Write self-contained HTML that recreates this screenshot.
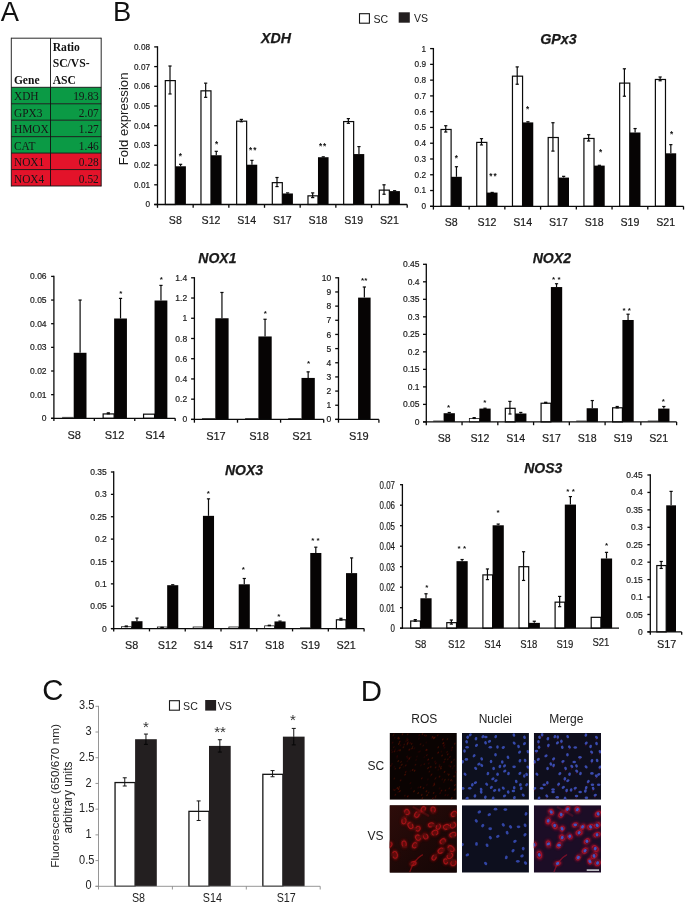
<!DOCTYPE html>
<html lang="en"><head><meta charset="utf-8"><title>Figure</title>
<style>html,body{margin:0;padding:0;background:#fff}body{width:685px;height:903px;overflow:hidden}svg{display:block}text{font-family:'Liberation Sans', Arial, sans-serif}</style>
</head><body>
<svg width="685" height="903" viewBox="0 0 685 903">
<defs><filter id="b1" x="-20%" y="-20%" width="140%" height="140%"><feGaussianBlur stdDeviation="0.55"/></filter><filter id="b2" x="-20%" y="-20%" width="140%" height="140%"><feGaussianBlur stdDeviation="0.8"/></filter><filter id="b3" x="-5%" y="-5%" width="110%" height="110%"><feGaussianBlur stdDeviation="0.5"/></filter><linearGradient id="gv" x1="0" y1="0" x2="1" y2="1"><stop offset="0" stop-color="#2e0c0a"/><stop offset="0.55" stop-color="#1d0807"/><stop offset="1" stop-color="#140505"/></linearGradient></defs>
<rect width="685" height="903" fill="#fff"/>
<text x="0.8" y="20.7" font-size="27.3" fill="#111">A</text>
<text x="113" y="20.7" font-size="27.3" fill="#111">B</text>
<text x="42.2" y="700.4" font-size="29.3" fill="#111">C</text>
<text x="360.8" y="700.9" font-size="29.4" fill="#111">D</text>
<g font-family="'Liberation Serif', 'Times New Roman', serif">
<rect x="11.3" y="38.2" width="89.9" height="49.1" fill="#fff"/>
<rect x="11.3" y="87.3" width="89.9" height="16.45" fill="#0b9a45"/>
<rect x="11.3" y="103.75" width="89.9" height="16.45" fill="#0b9a45"/>
<rect x="11.3" y="120.2" width="89.9" height="16.45" fill="#0b9a45"/>
<rect x="11.3" y="136.65" width="89.9" height="16.45" fill="#0b9a45"/>
<rect x="11.3" y="153.1" width="89.9" height="16.45" fill="#e3132a"/>
<rect x="11.3" y="169.55" width="89.9" height="16.45" fill="#e3132a"/>
<line x1="11.3" y1="87.3" x2="101.2" y2="87.3" stroke="#111" stroke-width="0.9"/>
<line x1="11.3" y1="103.75" x2="101.2" y2="103.75" stroke="#111" stroke-width="0.9"/>
<line x1="11.3" y1="120.2" x2="101.2" y2="120.2" stroke="#111" stroke-width="0.9"/>
<line x1="11.3" y1="136.65" x2="101.2" y2="136.65" stroke="#111" stroke-width="0.9"/>
<line x1="11.3" y1="153.1" x2="101.2" y2="153.1" stroke="#111" stroke-width="0.9"/>
<line x1="11.3" y1="169.55" x2="101.2" y2="169.55" stroke="#111" stroke-width="0.9"/>
<line x1="11.3" y1="186" x2="101.2" y2="186" stroke="#111" stroke-width="0.9"/>
<line x1="11.3" y1="38.2" x2="101.2" y2="38.2" stroke="#111" stroke-width="0.9"/>
<line x1="11.3" y1="37.75" x2="11.3" y2="186.45" stroke="#111" stroke-width="0.9"/>
<line x1="50.5" y1="38.2" x2="50.5" y2="186" stroke="#111" stroke-width="0.9"/>
<line x1="101.2" y1="37.75" x2="101.2" y2="186.45" stroke="#111" stroke-width="0.9"/>
<text transform="translate(13.9 100.4) scale(1 1.12)" font-size="11.4" fill="#161616" style="font-family:'Liberation Serif', 'Times New Roman', serif">XDH</text>
<text transform="translate(98.8 100.4) scale(1 1.12)" font-size="11.4" fill="#161616" text-anchor="end" style="font-family:'Liberation Serif', 'Times New Roman', serif">19.83</text>
<text transform="translate(13.9 116.85) scale(1 1.12)" font-size="11.4" fill="#161616" style="font-family:'Liberation Serif', 'Times New Roman', serif">GPX3</text>
<text transform="translate(98.8 116.85) scale(1 1.12)" font-size="11.4" fill="#161616" text-anchor="end" style="font-family:'Liberation Serif', 'Times New Roman', serif">2.07</text>
<text transform="translate(13.9 133.3) scale(1 1.12)" font-size="11.4" fill="#161616" style="font-family:'Liberation Serif', 'Times New Roman', serif">HMOX</text>
<text transform="translate(98.8 133.3) scale(1 1.12)" font-size="11.4" fill="#161616" text-anchor="end" style="font-family:'Liberation Serif', 'Times New Roman', serif">1.27</text>
<text transform="translate(13.9 149.75) scale(1 1.12)" font-size="11.4" fill="#161616" style="font-family:'Liberation Serif', 'Times New Roman', serif">CAT</text>
<text transform="translate(98.8 149.75) scale(1 1.12)" font-size="11.4" fill="#161616" text-anchor="end" style="font-family:'Liberation Serif', 'Times New Roman', serif">1.46</text>
<text transform="translate(13.9 166.2) scale(1 1.12)" font-size="11.4" fill="#161616" style="font-family:'Liberation Serif', 'Times New Roman', serif">NOX1</text>
<text transform="translate(98.8 166.2) scale(1 1.12)" font-size="11.4" fill="#161616" text-anchor="end" style="font-family:'Liberation Serif', 'Times New Roman', serif">0.28</text>
<text transform="translate(13.9 182.65) scale(1 1.12)" font-size="11.4" fill="#161616" style="font-family:'Liberation Serif', 'Times New Roman', serif">NOX4</text>
<text transform="translate(98.8 182.65) scale(1 1.12)" font-size="11.4" fill="#161616" text-anchor="end" style="font-family:'Liberation Serif', 'Times New Roman', serif">0.52</text>
<text transform="translate(13.9 83.6) scale(1.03 1.14)" font-size="11.2" font-weight="bold" fill="#111" style="font-family:'Liberation Serif', 'Times New Roman', serif">Gene</text>
<text transform="translate(52.7 51) scale(1.04 1.14)" font-size="11.2" font-weight="bold" fill="#111" style="font-family:'Liberation Serif', 'Times New Roman', serif">Ratio</text>
<text transform="translate(52.7 67.4) scale(1.04 1.14)" font-size="11.2" font-weight="bold" fill="#111" style="font-family:'Liberation Serif', 'Times New Roman', serif">SC/VS-</text>
<text transform="translate(52.7 83.8) scale(1.04 1.14)" font-size="11.2" font-weight="bold" fill="#111" style="font-family:'Liberation Serif', 'Times New Roman', serif">ASC</text>
</g>
<rect x="359.5" y="13.7" width="9.9" height="9.5" fill="#fff" stroke="#141414" stroke-width="1.1"/>
<text transform="translate(373.5 22.5) scale(0.9 1)" font-size="11.7" fill="#1a1a1a">SC</text>
<rect x="398.7" y="12.3" width="11.1" height="10.4" fill="#231f20"/>
<text transform="translate(413.9 22) scale(0.9 1)" font-size="11.7" fill="#1a1a1a">VS</text>
<text transform="translate(127.7 165.3) rotate(-90)" font-size="13.15" fill="#1a1a1a">Fold expression</text>
<g>
<rect x="165.3" y="80.6" width="10" height="123.9" fill="#fff" stroke="#0a0a0a" stroke-width="1.2"/>
<rect x="175.3" y="166.28" width="10.6" height="38.22" fill="#060404"/>
<line x1="170" y1="66.01" x2="170" y2="93.98" stroke="#0a0a0a" stroke-width="1.2"/>
<line x1="168.4" y1="66.01" x2="171.6" y2="66.01" stroke="#0a0a0a" stroke-width="1.2"/>
<line x1="168.4" y1="93.98" x2="171.6" y2="93.98" stroke="#0a0a0a" stroke-width="1.2"/>
<line x1="180.6" y1="164.31" x2="180.6" y2="166.28" stroke="#0a0a0a" stroke-width="1.2"/>
<line x1="179" y1="164.31" x2="182.2" y2="164.31" stroke="#0a0a0a" stroke-width="1.2"/>
<rect x="200.97" y="90.84" width="10" height="113.66" fill="#fff" stroke="#0a0a0a" stroke-width="1.2"/>
<rect x="210.97" y="155.25" width="10.6" height="49.25" fill="#060404"/>
<line x1="205.67" y1="83.15" x2="205.67" y2="97.33" stroke="#0a0a0a" stroke-width="1.2"/>
<line x1="204.07" y1="83.15" x2="207.27" y2="83.15" stroke="#0a0a0a" stroke-width="1.2"/>
<line x1="204.07" y1="97.33" x2="207.27" y2="97.33" stroke="#0a0a0a" stroke-width="1.2"/>
<line x1="216.27" y1="151.31" x2="216.27" y2="155.25" stroke="#0a0a0a" stroke-width="1.2"/>
<line x1="214.67" y1="151.31" x2="217.87" y2="151.31" stroke="#0a0a0a" stroke-width="1.2"/>
<rect x="236.64" y="121.18" width="10" height="83.32" fill="#fff" stroke="#0a0a0a" stroke-width="1.2"/>
<rect x="246.64" y="164.71" width="10.6" height="39.79" fill="#060404"/>
<line x1="241.34" y1="119.4" x2="241.34" y2="121.76" stroke="#0a0a0a" stroke-width="1.2"/>
<line x1="239.74" y1="119.4" x2="242.94" y2="119.4" stroke="#0a0a0a" stroke-width="1.2"/>
<line x1="239.74" y1="121.76" x2="242.94" y2="121.76" stroke="#0a0a0a" stroke-width="1.2"/>
<line x1="251.94" y1="160.37" x2="251.94" y2="164.71" stroke="#0a0a0a" stroke-width="1.2"/>
<line x1="250.34" y1="160.37" x2="253.54" y2="160.37" stroke="#0a0a0a" stroke-width="1.2"/>
<rect x="272.31" y="182.64" width="10" height="21.86" fill="#fff" stroke="#0a0a0a" stroke-width="1.2"/>
<rect x="282.31" y="193.47" width="10.6" height="11.03" fill="#060404"/>
<line x1="277.01" y1="177.51" x2="277.01" y2="186.57" stroke="#0a0a0a" stroke-width="1.2"/>
<line x1="275.41" y1="177.51" x2="278.61" y2="177.51" stroke="#0a0a0a" stroke-width="1.2"/>
<line x1="275.41" y1="186.57" x2="278.61" y2="186.57" stroke="#0a0a0a" stroke-width="1.2"/>
<line x1="287.61" y1="192.88" x2="287.61" y2="193.47" stroke="#0a0a0a" stroke-width="1.2"/>
<line x1="286.01" y1="192.88" x2="289.21" y2="192.88" stroke="#0a0a0a" stroke-width="1.2"/>
<rect x="307.98" y="195.84" width="10" height="8.66" fill="#fff" stroke="#0a0a0a" stroke-width="1.2"/>
<rect x="317.98" y="157.22" width="10.6" height="47.28" fill="#060404"/>
<line x1="312.68" y1="192.88" x2="312.68" y2="197.6" stroke="#0a0a0a" stroke-width="1.2"/>
<line x1="311.08" y1="192.88" x2="314.28" y2="192.88" stroke="#0a0a0a" stroke-width="1.2"/>
<line x1="311.08" y1="197.6" x2="314.28" y2="197.6" stroke="#0a0a0a" stroke-width="1.2"/>
<line x1="323.28" y1="156.83" x2="323.28" y2="157.22" stroke="#0a0a0a" stroke-width="1.2"/>
<line x1="321.68" y1="156.83" x2="324.88" y2="156.83" stroke="#0a0a0a" stroke-width="1.2"/>
<rect x="343.65" y="121.57" width="10" height="82.93" fill="#fff" stroke="#0a0a0a" stroke-width="1.2"/>
<rect x="353.65" y="154.07" width="10.6" height="50.43" fill="#060404"/>
<line x1="348.35" y1="118.61" x2="348.35" y2="123.34" stroke="#0a0a0a" stroke-width="1.2"/>
<line x1="346.75" y1="118.61" x2="349.95" y2="118.61" stroke="#0a0a0a" stroke-width="1.2"/>
<line x1="346.75" y1="123.34" x2="349.95" y2="123.34" stroke="#0a0a0a" stroke-width="1.2"/>
<line x1="358.95" y1="146.58" x2="358.95" y2="154.07" stroke="#0a0a0a" stroke-width="1.2"/>
<line x1="357.35" y1="146.58" x2="360.55" y2="146.58" stroke="#0a0a0a" stroke-width="1.2"/>
<rect x="379.32" y="190.13" width="10" height="14.37" fill="#fff" stroke="#0a0a0a" stroke-width="1.2"/>
<rect x="389.32" y="191.1" width="10.6" height="13.4" fill="#060404"/>
<line x1="384.02" y1="184.8" x2="384.02" y2="194.26" stroke="#0a0a0a" stroke-width="1.2"/>
<line x1="382.42" y1="184.8" x2="385.62" y2="184.8" stroke="#0a0a0a" stroke-width="1.2"/>
<line x1="382.42" y1="194.26" x2="385.62" y2="194.26" stroke="#0a0a0a" stroke-width="1.2"/>
<line x1="394.62" y1="190.71" x2="394.62" y2="191.1" stroke="#0a0a0a" stroke-width="1.2"/>
<line x1="393.02" y1="190.71" x2="396.22" y2="190.71" stroke="#0a0a0a" stroke-width="1.2"/>
<line x1="157.5" y1="46.25" x2="157.5" y2="205.15" stroke="#0a0a0a" stroke-width="1.3"/>
<line x1="154.2" y1="204.5" x2="407.19" y2="204.5" stroke="#0a0a0a" stroke-width="1.3"/>
<line x1="154.2" y1="204.5" x2="157.5" y2="204.5" stroke="#0a0a0a" stroke-width="1.3"/>
<line x1="154.2" y1="184.8" x2="157.5" y2="184.8" stroke="#0a0a0a" stroke-width="1.3"/>
<line x1="154.2" y1="165.1" x2="157.5" y2="165.1" stroke="#0a0a0a" stroke-width="1.3"/>
<line x1="154.2" y1="145.4" x2="157.5" y2="145.4" stroke="#0a0a0a" stroke-width="1.3"/>
<line x1="154.2" y1="125.7" x2="157.5" y2="125.7" stroke="#0a0a0a" stroke-width="1.3"/>
<line x1="154.2" y1="106" x2="157.5" y2="106" stroke="#0a0a0a" stroke-width="1.3"/>
<line x1="154.2" y1="86.3" x2="157.5" y2="86.3" stroke="#0a0a0a" stroke-width="1.3"/>
<line x1="154.2" y1="66.6" x2="157.5" y2="66.6" stroke="#0a0a0a" stroke-width="1.3"/>
<line x1="154.2" y1="46.9" x2="157.5" y2="46.9" stroke="#0a0a0a" stroke-width="1.3"/>
<line x1="157.5" y1="204.5" x2="157.5" y2="207.8" stroke="#0a0a0a" stroke-width="1.3"/>
<line x1="193.17" y1="204.5" x2="193.17" y2="207.8" stroke="#0a0a0a" stroke-width="1.3"/>
<line x1="228.84" y1="204.5" x2="228.84" y2="207.8" stroke="#0a0a0a" stroke-width="1.3"/>
<line x1="264.51" y1="204.5" x2="264.51" y2="207.8" stroke="#0a0a0a" stroke-width="1.3"/>
<line x1="300.18" y1="204.5" x2="300.18" y2="207.8" stroke="#0a0a0a" stroke-width="1.3"/>
<line x1="335.85" y1="204.5" x2="335.85" y2="207.8" stroke="#0a0a0a" stroke-width="1.3"/>
<line x1="371.52" y1="204.5" x2="371.52" y2="207.8" stroke="#0a0a0a" stroke-width="1.3"/>
<line x1="407.19" y1="204.5" x2="407.19" y2="207.8" stroke="#0a0a0a" stroke-width="1.3"/>
<text x="150" y="207.45" font-size="8.2" text-anchor="end" fill="#1a1a1a" stroke="#1a1a1a" stroke-width="0.18">0</text>
<text x="150" y="187.75" font-size="8.2" text-anchor="end" fill="#1a1a1a" stroke="#1a1a1a" stroke-width="0.18">0.01</text>
<text x="150" y="168.05" font-size="8.2" text-anchor="end" fill="#1a1a1a" stroke="#1a1a1a" stroke-width="0.18">0.02</text>
<text x="150" y="148.35" font-size="8.2" text-anchor="end" fill="#1a1a1a" stroke="#1a1a1a" stroke-width="0.18">0.03</text>
<text x="150" y="128.65" font-size="8.2" text-anchor="end" fill="#1a1a1a" stroke="#1a1a1a" stroke-width="0.18">0.04</text>
<text x="150" y="108.95" font-size="8.2" text-anchor="end" fill="#1a1a1a" stroke="#1a1a1a" stroke-width="0.18">0.05</text>
<text x="150" y="89.25" font-size="8.2" text-anchor="end" fill="#1a1a1a" stroke="#1a1a1a" stroke-width="0.18">0.06</text>
<text x="150" y="69.55" font-size="8.2" text-anchor="end" fill="#1a1a1a" stroke="#1a1a1a" stroke-width="0.18">0.07</text>
<text x="150" y="49.85" font-size="8.2" text-anchor="end" fill="#1a1a1a" stroke="#1a1a1a" stroke-width="0.18">0.08</text>
<text x="175.34" y="224.3" font-size="10.6" text-anchor="middle" fill="#1a1a1a" stroke="#1a1a1a" stroke-width="0.18">S8</text>
<text x="211" y="224.3" font-size="10.6" text-anchor="middle" fill="#1a1a1a" stroke="#1a1a1a" stroke-width="0.18">S12</text>
<text x="246.68" y="224.3" font-size="10.6" text-anchor="middle" fill="#1a1a1a" stroke="#1a1a1a" stroke-width="0.18">S14</text>
<text x="282.35" y="224.3" font-size="10.6" text-anchor="middle" fill="#1a1a1a" stroke="#1a1a1a" stroke-width="0.18">S17</text>
<text x="318.01" y="224.3" font-size="10.6" text-anchor="middle" fill="#1a1a1a" stroke="#1a1a1a" stroke-width="0.18">S18</text>
<text x="353.69" y="224.3" font-size="10.6" text-anchor="middle" fill="#1a1a1a" stroke="#1a1a1a" stroke-width="0.18">S19</text>
<text x="389.36" y="224.3" font-size="10.6" text-anchor="middle" fill="#1a1a1a" stroke="#1a1a1a" stroke-width="0.18">S21</text>
<text x="180.4" y="159.05" font-size="8.2" text-anchor="middle" font-weight="bold" fill="#111">*</text>
<text x="216.6" y="147.05" font-size="8.2" text-anchor="middle" font-weight="bold" fill="#111">*</text>
<text x="253.2" y="153.15" font-size="8.2" text-anchor="middle" font-weight="bold" fill="#111" letter-spacing="1">**</text>
<text x="323.1" y="149.15" font-size="8.2" text-anchor="middle" font-weight="bold" fill="#111" letter-spacing="1">**</text>
<text x="261" y="43.4" font-size="14.2" font-weight="bold" font-style="italic" fill="#1a1a1a" stroke="#1a1a1a" stroke-width="0.25">XDH</text>
</g>
<g>
<rect x="441" y="129.47" width="10.1" height="76.83" fill="#fff" stroke="#0a0a0a" stroke-width="1.2"/>
<rect x="451.1" y="176.81" width="10.7" height="29.49" fill="#060404"/>
<line x1="445.75" y1="125.72" x2="445.75" y2="132.02" stroke="#0a0a0a" stroke-width="1.2"/>
<line x1="444.15" y1="125.72" x2="447.35" y2="125.72" stroke="#0a0a0a" stroke-width="1.2"/>
<line x1="444.15" y1="132.02" x2="447.35" y2="132.02" stroke="#0a0a0a" stroke-width="1.2"/>
<line x1="456.45" y1="166.72" x2="456.45" y2="176.81" stroke="#0a0a0a" stroke-width="1.2"/>
<line x1="454.85" y1="166.72" x2="458.05" y2="166.72" stroke="#0a0a0a" stroke-width="1.2"/>
<rect x="476.73" y="142.4" width="10.1" height="63.9" fill="#fff" stroke="#0a0a0a" stroke-width="1.2"/>
<rect x="486.83" y="192.58" width="10.7" height="13.72" fill="#060404"/>
<line x1="481.48" y1="138.65" x2="481.48" y2="144.95" stroke="#0a0a0a" stroke-width="1.2"/>
<line x1="479.88" y1="138.65" x2="483.08" y2="138.65" stroke="#0a0a0a" stroke-width="1.2"/>
<line x1="479.88" y1="144.95" x2="483.08" y2="144.95" stroke="#0a0a0a" stroke-width="1.2"/>
<line x1="492.18" y1="192.42" x2="492.18" y2="192.58" stroke="#0a0a0a" stroke-width="1.2"/>
<line x1="490.58" y1="192.42" x2="493.78" y2="192.42" stroke="#0a0a0a" stroke-width="1.2"/>
<rect x="512.46" y="76.17" width="10.1" height="130.13" fill="#fff" stroke="#0a0a0a" stroke-width="1.2"/>
<rect x="522.56" y="122.4" width="10.7" height="83.9" fill="#060404"/>
<line x1="517.21" y1="66.89" x2="517.21" y2="84.24" stroke="#0a0a0a" stroke-width="1.2"/>
<line x1="515.61" y1="66.89" x2="518.81" y2="66.89" stroke="#0a0a0a" stroke-width="1.2"/>
<line x1="515.61" y1="84.24" x2="518.81" y2="84.24" stroke="#0a0a0a" stroke-width="1.2"/>
<line x1="527.91" y1="121.77" x2="527.91" y2="122.4" stroke="#0a0a0a" stroke-width="1.2"/>
<line x1="526.31" y1="121.77" x2="529.51" y2="121.77" stroke="#0a0a0a" stroke-width="1.2"/>
<rect x="548.19" y="137.51" width="10.1" height="68.79" fill="#fff" stroke="#0a0a0a" stroke-width="1.2"/>
<rect x="558.29" y="177.6" width="10.7" height="28.7" fill="#060404"/>
<line x1="552.94" y1="122.72" x2="552.94" y2="151.11" stroke="#0a0a0a" stroke-width="1.2"/>
<line x1="551.34" y1="122.72" x2="554.54" y2="122.72" stroke="#0a0a0a" stroke-width="1.2"/>
<line x1="551.34" y1="151.11" x2="554.54" y2="151.11" stroke="#0a0a0a" stroke-width="1.2"/>
<line x1="563.64" y1="176.34" x2="563.64" y2="177.6" stroke="#0a0a0a" stroke-width="1.2"/>
<line x1="562.04" y1="176.34" x2="565.24" y2="176.34" stroke="#0a0a0a" stroke-width="1.2"/>
<rect x="583.92" y="138.46" width="10.1" height="67.84" fill="#fff" stroke="#0a0a0a" stroke-width="1.2"/>
<rect x="594.02" y="165.61" width="10.7" height="40.69" fill="#060404"/>
<line x1="588.67" y1="134.7" x2="588.67" y2="141.01" stroke="#0a0a0a" stroke-width="1.2"/>
<line x1="587.07" y1="134.7" x2="590.27" y2="134.7" stroke="#0a0a0a" stroke-width="1.2"/>
<line x1="587.07" y1="141.01" x2="590.27" y2="141.01" stroke="#0a0a0a" stroke-width="1.2"/>
<line x1="599.37" y1="165.3" x2="599.37" y2="165.61" stroke="#0a0a0a" stroke-width="1.2"/>
<line x1="597.77" y1="165.3" x2="600.97" y2="165.3" stroke="#0a0a0a" stroke-width="1.2"/>
<rect x="619.65" y="83.11" width="10.1" height="123.19" fill="#fff" stroke="#0a0a0a" stroke-width="1.2"/>
<rect x="629.75" y="132.5" width="10.7" height="73.8" fill="#060404"/>
<line x1="624.4" y1="68.79" x2="624.4" y2="96.23" stroke="#0a0a0a" stroke-width="1.2"/>
<line x1="622.8" y1="68.79" x2="626" y2="68.79" stroke="#0a0a0a" stroke-width="1.2"/>
<line x1="622.8" y1="96.23" x2="626" y2="96.23" stroke="#0a0a0a" stroke-width="1.2"/>
<line x1="635.1" y1="128.55" x2="635.1" y2="132.5" stroke="#0a0a0a" stroke-width="1.2"/>
<line x1="633.5" y1="128.55" x2="636.7" y2="128.55" stroke="#0a0a0a" stroke-width="1.2"/>
<rect x="655.38" y="79.48" width="10.1" height="126.82" fill="#fff" stroke="#0a0a0a" stroke-width="1.2"/>
<rect x="665.48" y="153.31" width="10.7" height="52.99" fill="#060404"/>
<line x1="660.13" y1="76.99" x2="660.13" y2="80.77" stroke="#0a0a0a" stroke-width="1.2"/>
<line x1="658.53" y1="76.99" x2="661.73" y2="76.99" stroke="#0a0a0a" stroke-width="1.2"/>
<line x1="658.53" y1="80.77" x2="661.73" y2="80.77" stroke="#0a0a0a" stroke-width="1.2"/>
<line x1="670.83" y1="144.64" x2="670.83" y2="153.31" stroke="#0a0a0a" stroke-width="1.2"/>
<line x1="669.23" y1="144.64" x2="672.43" y2="144.64" stroke="#0a0a0a" stroke-width="1.2"/>
<line x1="433.4" y1="47.95" x2="433.4" y2="206.95" stroke="#0a0a0a" stroke-width="1.3"/>
<line x1="430.1" y1="206.3" x2="683.51" y2="206.3" stroke="#0a0a0a" stroke-width="1.3"/>
<line x1="430.1" y1="206.3" x2="433.4" y2="206.3" stroke="#0a0a0a" stroke-width="1.3"/>
<line x1="430.1" y1="190.53" x2="433.4" y2="190.53" stroke="#0a0a0a" stroke-width="1.3"/>
<line x1="430.1" y1="174.76" x2="433.4" y2="174.76" stroke="#0a0a0a" stroke-width="1.3"/>
<line x1="430.1" y1="158.99" x2="433.4" y2="158.99" stroke="#0a0a0a" stroke-width="1.3"/>
<line x1="430.1" y1="143.22" x2="433.4" y2="143.22" stroke="#0a0a0a" stroke-width="1.3"/>
<line x1="430.1" y1="127.45" x2="433.4" y2="127.45" stroke="#0a0a0a" stroke-width="1.3"/>
<line x1="430.1" y1="111.68" x2="433.4" y2="111.68" stroke="#0a0a0a" stroke-width="1.3"/>
<line x1="430.1" y1="95.91" x2="433.4" y2="95.91" stroke="#0a0a0a" stroke-width="1.3"/>
<line x1="430.1" y1="80.14" x2="433.4" y2="80.14" stroke="#0a0a0a" stroke-width="1.3"/>
<line x1="430.1" y1="64.37" x2="433.4" y2="64.37" stroke="#0a0a0a" stroke-width="1.3"/>
<line x1="430.1" y1="48.6" x2="433.4" y2="48.6" stroke="#0a0a0a" stroke-width="1.3"/>
<line x1="433.4" y1="206.3" x2="433.4" y2="209.6" stroke="#0a0a0a" stroke-width="1.3"/>
<line x1="469.13" y1="206.3" x2="469.13" y2="209.6" stroke="#0a0a0a" stroke-width="1.3"/>
<line x1="504.86" y1="206.3" x2="504.86" y2="209.6" stroke="#0a0a0a" stroke-width="1.3"/>
<line x1="540.59" y1="206.3" x2="540.59" y2="209.6" stroke="#0a0a0a" stroke-width="1.3"/>
<line x1="576.32" y1="206.3" x2="576.32" y2="209.6" stroke="#0a0a0a" stroke-width="1.3"/>
<line x1="612.05" y1="206.3" x2="612.05" y2="209.6" stroke="#0a0a0a" stroke-width="1.3"/>
<line x1="647.78" y1="206.3" x2="647.78" y2="209.6" stroke="#0a0a0a" stroke-width="1.3"/>
<line x1="683.51" y1="206.3" x2="683.51" y2="209.6" stroke="#0a0a0a" stroke-width="1.3"/>
<text x="426" y="209.25" font-size="8.2" text-anchor="end" fill="#1a1a1a" stroke="#1a1a1a" stroke-width="0.18">0</text>
<text x="426" y="193.48" font-size="8.2" text-anchor="end" fill="#1a1a1a" stroke="#1a1a1a" stroke-width="0.18">0.1</text>
<text x="426" y="177.71" font-size="8.2" text-anchor="end" fill="#1a1a1a" stroke="#1a1a1a" stroke-width="0.18">0.2</text>
<text x="426" y="161.94" font-size="8.2" text-anchor="end" fill="#1a1a1a" stroke="#1a1a1a" stroke-width="0.18">0.3</text>
<text x="426" y="146.17" font-size="8.2" text-anchor="end" fill="#1a1a1a" stroke="#1a1a1a" stroke-width="0.18">0.4</text>
<text x="426" y="130.4" font-size="8.2" text-anchor="end" fill="#1a1a1a" stroke="#1a1a1a" stroke-width="0.18">0.5</text>
<text x="426" y="114.63" font-size="8.2" text-anchor="end" fill="#1a1a1a" stroke="#1a1a1a" stroke-width="0.18">0.6</text>
<text x="426" y="98.86" font-size="8.2" text-anchor="end" fill="#1a1a1a" stroke="#1a1a1a" stroke-width="0.18">0.7</text>
<text x="426" y="83.09" font-size="8.2" text-anchor="end" fill="#1a1a1a" stroke="#1a1a1a" stroke-width="0.18">0.8</text>
<text x="426" y="67.32" font-size="8.2" text-anchor="end" fill="#1a1a1a" stroke="#1a1a1a" stroke-width="0.18">0.9</text>
<text x="426" y="51.55" font-size="8.2" text-anchor="end" fill="#1a1a1a" stroke="#1a1a1a" stroke-width="0.18">1</text>
<text x="451.26" y="225.6" font-size="10.6" text-anchor="middle" fill="#1a1a1a" stroke="#1a1a1a" stroke-width="0.18">S8</text>
<text x="487" y="225.6" font-size="10.6" text-anchor="middle" fill="#1a1a1a" stroke="#1a1a1a" stroke-width="0.18">S12</text>
<text x="522.72" y="225.6" font-size="10.6" text-anchor="middle" fill="#1a1a1a" stroke="#1a1a1a" stroke-width="0.18">S14</text>
<text x="558.45" y="225.6" font-size="10.6" text-anchor="middle" fill="#1a1a1a" stroke="#1a1a1a" stroke-width="0.18">S17</text>
<text x="594.18" y="225.6" font-size="10.6" text-anchor="middle" fill="#1a1a1a" stroke="#1a1a1a" stroke-width="0.18">S18</text>
<text x="629.91" y="225.6" font-size="10.6" text-anchor="middle" fill="#1a1a1a" stroke="#1a1a1a" stroke-width="0.18">S19</text>
<text x="665.64" y="225.6" font-size="10.6" text-anchor="middle" fill="#1a1a1a" stroke="#1a1a1a" stroke-width="0.18">S21</text>
<text x="456.3" y="161.15" font-size="8.2" text-anchor="middle" font-weight="bold" fill="#111">*</text>
<text x="493.4" y="179.15" font-size="8.2" text-anchor="middle" font-weight="bold" fill="#111" letter-spacing="1">**</text>
<text x="527.7" y="112.25" font-size="8.2" text-anchor="middle" font-weight="bold" fill="#111">*</text>
<text x="600.6" y="154.85" font-size="8.2" text-anchor="middle" font-weight="bold" fill="#111">*</text>
<text x="671.5" y="137.05" font-size="8.2" text-anchor="middle" font-weight="bold" fill="#111">*</text>
<text x="540.2" y="44.3" font-size="14.3" font-weight="bold" font-style="italic" fill="#1a1a1a" stroke="#1a1a1a" stroke-width="0.25">GPx3</text>
</g>
<g>
<line x1="62.1" y1="417.4" x2="73.7" y2="417.4" stroke="#0a0a0a" stroke-width="0.7"/>
<rect x="73.7" y="352.79" width="12.8" height="65.51" fill="#060404"/>
<line x1="80.1" y1="300.05" x2="80.1" y2="352.79" stroke="#0a0a0a" stroke-width="1.2"/>
<line x1="78.5" y1="300.05" x2="81.7" y2="300.05" stroke="#0a0a0a" stroke-width="1.2"/>
<rect x="103.13" y="413.93" width="11" height="4.37" fill="#fff" stroke="#0a0a0a" stroke-width="1.2"/>
<rect x="114.13" y="318.5" width="12.8" height="99.8" fill="#060404"/>
<line x1="108.33" y1="412.86" x2="108.33" y2="413.81" stroke="#0a0a0a" stroke-width="1.2"/>
<line x1="106.73" y1="412.86" x2="109.93" y2="412.86" stroke="#0a0a0a" stroke-width="1.2"/>
<line x1="106.73" y1="413.81" x2="109.93" y2="413.81" stroke="#0a0a0a" stroke-width="1.2"/>
<line x1="120.53" y1="298.39" x2="120.53" y2="318.5" stroke="#0a0a0a" stroke-width="1.2"/>
<line x1="118.93" y1="298.39" x2="122.13" y2="298.39" stroke="#0a0a0a" stroke-width="1.2"/>
<rect x="143.56" y="414.17" width="11" height="4.13" fill="#fff" stroke="#0a0a0a" stroke-width="1.2"/>
<rect x="154.56" y="300.52" width="12.8" height="117.78" fill="#060404"/>
<line x1="160.96" y1="285.39" x2="160.96" y2="300.52" stroke="#0a0a0a" stroke-width="1.2"/>
<line x1="159.36" y1="285.39" x2="162.56" y2="285.39" stroke="#0a0a0a" stroke-width="1.2"/>
<line x1="53.9" y1="275.75" x2="53.9" y2="418.95" stroke="#0a0a0a" stroke-width="1.3"/>
<line x1="51.1" y1="418.3" x2="175.19" y2="418.3" stroke="#0a0a0a" stroke-width="1.3"/>
<line x1="51.1" y1="418.3" x2="53.9" y2="418.3" stroke="#0a0a0a" stroke-width="1.3"/>
<line x1="51.1" y1="394.65" x2="53.9" y2="394.65" stroke="#0a0a0a" stroke-width="1.3"/>
<line x1="51.1" y1="371" x2="53.9" y2="371" stroke="#0a0a0a" stroke-width="1.3"/>
<line x1="51.1" y1="347.35" x2="53.9" y2="347.35" stroke="#0a0a0a" stroke-width="1.3"/>
<line x1="51.1" y1="323.7" x2="53.9" y2="323.7" stroke="#0a0a0a" stroke-width="1.3"/>
<line x1="51.1" y1="300.05" x2="53.9" y2="300.05" stroke="#0a0a0a" stroke-width="1.3"/>
<line x1="51.1" y1="276.4" x2="53.9" y2="276.4" stroke="#0a0a0a" stroke-width="1.3"/>
<line x1="53.9" y1="418.3" x2="53.9" y2="421.1" stroke="#0a0a0a" stroke-width="1.3"/>
<line x1="94.33" y1="418.3" x2="94.33" y2="421.1" stroke="#0a0a0a" stroke-width="1.3"/>
<line x1="134.76" y1="418.3" x2="134.76" y2="421.1" stroke="#0a0a0a" stroke-width="1.3"/>
<line x1="175.19" y1="418.3" x2="175.19" y2="421.1" stroke="#0a0a0a" stroke-width="1.3"/>
<text x="46.6" y="421.36" font-size="8.5" text-anchor="end" fill="#1a1a1a" stroke="#1a1a1a" stroke-width="0.18">0</text>
<text x="46.6" y="397.71" font-size="8.5" text-anchor="end" fill="#1a1a1a" stroke="#1a1a1a" stroke-width="0.18">0.01</text>
<text x="46.6" y="374.06" font-size="8.5" text-anchor="end" fill="#1a1a1a" stroke="#1a1a1a" stroke-width="0.18">0.02</text>
<text x="46.6" y="350.41" font-size="8.5" text-anchor="end" fill="#1a1a1a" stroke="#1a1a1a" stroke-width="0.18">0.03</text>
<text x="46.6" y="326.76" font-size="8.5" text-anchor="end" fill="#1a1a1a" stroke="#1a1a1a" stroke-width="0.18">0.04</text>
<text x="46.6" y="303.11" font-size="8.5" text-anchor="end" fill="#1a1a1a" stroke="#1a1a1a" stroke-width="0.18">0.05</text>
<text x="46.6" y="279.46" font-size="8.5" text-anchor="end" fill="#1a1a1a" stroke="#1a1a1a" stroke-width="0.18">0.06</text>
<text x="74.11" y="438.6" font-size="11" text-anchor="middle" fill="#1a1a1a" stroke="#1a1a1a" stroke-width="0.18">S8</text>
<text x="114.54" y="438.6" font-size="11" text-anchor="middle" fill="#1a1a1a" stroke="#1a1a1a" stroke-width="0.18">S12</text>
<text x="154.97" y="438.6" font-size="11" text-anchor="middle" fill="#1a1a1a" stroke="#1a1a1a" stroke-width="0.18">S14</text>
<text x="120.8" y="295.66" font-size="8" text-anchor="middle" font-weight="bold" fill="#111">*</text>
<text x="161.2" y="281.56" font-size="8" text-anchor="middle" font-weight="bold" fill="#111">*</text>
</g>
<g>
<line x1="202" y1="418.5" x2="215.3" y2="418.5" stroke="#0a0a0a" stroke-width="0.7"/>
<rect x="215.3" y="318.26" width="13.3" height="101.14" fill="#060404"/>
<line x1="221.95" y1="292.47" x2="221.95" y2="318.26" stroke="#0a0a0a" stroke-width="1.2"/>
<line x1="220.35" y1="292.47" x2="223.55" y2="292.47" stroke="#0a0a0a" stroke-width="1.2"/>
<line x1="245.1" y1="418.5" x2="258.4" y2="418.5" stroke="#0a0a0a" stroke-width="0.7"/>
<rect x="258.4" y="336.46" width="13.3" height="82.94" fill="#060404"/>
<line x1="265.05" y1="319.27" x2="265.05" y2="336.46" stroke="#0a0a0a" stroke-width="1.2"/>
<line x1="263.45" y1="319.27" x2="266.65" y2="319.27" stroke="#0a0a0a" stroke-width="1.2"/>
<line x1="288.2" y1="418.5" x2="301.5" y2="418.5" stroke="#0a0a0a" stroke-width="0.7"/>
<rect x="301.5" y="377.93" width="13.3" height="41.47" fill="#060404"/>
<line x1="308.15" y1="371.86" x2="308.15" y2="377.93" stroke="#0a0a0a" stroke-width="1.2"/>
<line x1="306.55" y1="371.86" x2="309.75" y2="371.86" stroke="#0a0a0a" stroke-width="1.2"/>
<line x1="194.4" y1="277.15" x2="194.4" y2="420.05" stroke="#0a0a0a" stroke-width="1.3"/>
<line x1="191.1" y1="419.4" x2="323.7" y2="419.4" stroke="#0a0a0a" stroke-width="1.3"/>
<line x1="191.1" y1="419.4" x2="194.4" y2="419.4" stroke="#0a0a0a" stroke-width="1.3"/>
<line x1="191.1" y1="399.17" x2="194.4" y2="399.17" stroke="#0a0a0a" stroke-width="1.3"/>
<line x1="191.1" y1="378.94" x2="194.4" y2="378.94" stroke="#0a0a0a" stroke-width="1.3"/>
<line x1="191.1" y1="358.71" x2="194.4" y2="358.71" stroke="#0a0a0a" stroke-width="1.3"/>
<line x1="191.1" y1="338.49" x2="194.4" y2="338.49" stroke="#0a0a0a" stroke-width="1.3"/>
<line x1="191.1" y1="318.26" x2="194.4" y2="318.26" stroke="#0a0a0a" stroke-width="1.3"/>
<line x1="191.1" y1="298.03" x2="194.4" y2="298.03" stroke="#0a0a0a" stroke-width="1.3"/>
<line x1="191.1" y1="277.8" x2="194.4" y2="277.8" stroke="#0a0a0a" stroke-width="1.3"/>
<line x1="194.4" y1="419.4" x2="194.4" y2="422.7" stroke="#0a0a0a" stroke-width="1.3"/>
<line x1="237.5" y1="419.4" x2="237.5" y2="422.7" stroke="#0a0a0a" stroke-width="1.3"/>
<line x1="280.6" y1="419.4" x2="280.6" y2="422.7" stroke="#0a0a0a" stroke-width="1.3"/>
<line x1="323.7" y1="419.4" x2="323.7" y2="422.7" stroke="#0a0a0a" stroke-width="1.3"/>
<text x="187.2" y="422.46" font-size="8.5" text-anchor="end" fill="#1a1a1a" stroke="#1a1a1a" stroke-width="0.18">0</text>
<text x="187.2" y="402.23" font-size="8.5" text-anchor="end" fill="#1a1a1a" stroke="#1a1a1a" stroke-width="0.18">0.2</text>
<text x="187.2" y="382" font-size="8.5" text-anchor="end" fill="#1a1a1a" stroke="#1a1a1a" stroke-width="0.18">0.4</text>
<text x="187.2" y="361.77" font-size="8.5" text-anchor="end" fill="#1a1a1a" stroke="#1a1a1a" stroke-width="0.18">0.6</text>
<text x="187.2" y="341.55" font-size="8.5" text-anchor="end" fill="#1a1a1a" stroke="#1a1a1a" stroke-width="0.18">0.8</text>
<text x="187.2" y="321.32" font-size="8.5" text-anchor="end" fill="#1a1a1a" stroke="#1a1a1a" stroke-width="0.18">1</text>
<text x="187.2" y="301.09" font-size="8.5" text-anchor="end" fill="#1a1a1a" stroke="#1a1a1a" stroke-width="0.18">1.2</text>
<text x="187.2" y="280.86" font-size="8.5" text-anchor="end" fill="#1a1a1a" stroke="#1a1a1a" stroke-width="0.18">1.4</text>
<text x="215.95" y="439.6" font-size="11" text-anchor="middle" fill="#1a1a1a" stroke="#1a1a1a" stroke-width="0.18">S17</text>
<text x="259.05" y="439.6" font-size="11" text-anchor="middle" fill="#1a1a1a" stroke="#1a1a1a" stroke-width="0.18">S18</text>
<text x="302.15" y="439.6" font-size="11" text-anchor="middle" fill="#1a1a1a" stroke="#1a1a1a" stroke-width="0.18">S21</text>
<text x="265.4" y="315.56" font-size="8" text-anchor="middle" font-weight="bold" fill="#111">*</text>
<text x="308.6" y="365.66" font-size="8" text-anchor="middle" font-weight="bold" fill="#111">*</text>
<text x="198.3" y="262.9" font-size="14" font-weight="bold" font-style="italic" fill="#1a1a1a" stroke="#1a1a1a" stroke-width="0.25">NOX1</text>
</g>
<g>
<rect x="358.1" y="297.62" width="12.5" height="121.78" fill="#060404"/>
<line x1="364.35" y1="287" x2="364.35" y2="297.62" stroke="#0a0a0a" stroke-width="1.2"/>
<line x1="362.75" y1="287" x2="365.95" y2="287" stroke="#0a0a0a" stroke-width="1.2"/>
<line x1="338.5" y1="277.15" x2="338.5" y2="420.05" stroke="#0a0a0a" stroke-width="1.3"/>
<line x1="335.2" y1="419.4" x2="378.9" y2="419.4" stroke="#0a0a0a" stroke-width="1.3"/>
<line x1="335.2" y1="419.4" x2="338.5" y2="419.4" stroke="#0a0a0a" stroke-width="1.3"/>
<line x1="335.2" y1="405.24" x2="338.5" y2="405.24" stroke="#0a0a0a" stroke-width="1.3"/>
<line x1="335.2" y1="391.08" x2="338.5" y2="391.08" stroke="#0a0a0a" stroke-width="1.3"/>
<line x1="335.2" y1="376.92" x2="338.5" y2="376.92" stroke="#0a0a0a" stroke-width="1.3"/>
<line x1="335.2" y1="362.76" x2="338.5" y2="362.76" stroke="#0a0a0a" stroke-width="1.3"/>
<line x1="335.2" y1="348.6" x2="338.5" y2="348.6" stroke="#0a0a0a" stroke-width="1.3"/>
<line x1="335.2" y1="334.44" x2="338.5" y2="334.44" stroke="#0a0a0a" stroke-width="1.3"/>
<line x1="335.2" y1="320.28" x2="338.5" y2="320.28" stroke="#0a0a0a" stroke-width="1.3"/>
<line x1="335.2" y1="306.12" x2="338.5" y2="306.12" stroke="#0a0a0a" stroke-width="1.3"/>
<line x1="335.2" y1="291.96" x2="338.5" y2="291.96" stroke="#0a0a0a" stroke-width="1.3"/>
<line x1="335.2" y1="277.8" x2="338.5" y2="277.8" stroke="#0a0a0a" stroke-width="1.3"/>
<line x1="338.5" y1="419.4" x2="338.5" y2="422.7" stroke="#0a0a0a" stroke-width="1.3"/>
<line x1="378.9" y1="419.4" x2="378.9" y2="422.7" stroke="#0a0a0a" stroke-width="1.3"/>
<text x="331.3" y="422.46" font-size="8.5" text-anchor="end" fill="#1a1a1a" stroke="#1a1a1a" stroke-width="0.18">0</text>
<text x="331.3" y="408.3" font-size="8.5" text-anchor="end" fill="#1a1a1a" stroke="#1a1a1a" stroke-width="0.18">1</text>
<text x="331.3" y="394.14" font-size="8.5" text-anchor="end" fill="#1a1a1a" stroke="#1a1a1a" stroke-width="0.18">2</text>
<text x="331.3" y="379.98" font-size="8.5" text-anchor="end" fill="#1a1a1a" stroke="#1a1a1a" stroke-width="0.18">3</text>
<text x="331.3" y="365.82" font-size="8.5" text-anchor="end" fill="#1a1a1a" stroke="#1a1a1a" stroke-width="0.18">4</text>
<text x="331.3" y="351.66" font-size="8.5" text-anchor="end" fill="#1a1a1a" stroke="#1a1a1a" stroke-width="0.18">5</text>
<text x="331.3" y="337.5" font-size="8.5" text-anchor="end" fill="#1a1a1a" stroke="#1a1a1a" stroke-width="0.18">6</text>
<text x="331.3" y="323.34" font-size="8.5" text-anchor="end" fill="#1a1a1a" stroke="#1a1a1a" stroke-width="0.18">7</text>
<text x="331.3" y="309.18" font-size="8.5" text-anchor="end" fill="#1a1a1a" stroke="#1a1a1a" stroke-width="0.18">8</text>
<text x="331.3" y="295.02" font-size="8.5" text-anchor="end" fill="#1a1a1a" stroke="#1a1a1a" stroke-width="0.18">9</text>
<text x="331.3" y="280.86" font-size="8.5" text-anchor="end" fill="#1a1a1a" stroke="#1a1a1a" stroke-width="0.18">10</text>
<text x="358.9" y="439.6" font-size="11" text-anchor="middle" fill="#1a1a1a" stroke="#1a1a1a" stroke-width="0.18">S19</text>
<text x="364.2" y="282.86" font-size="8" text-anchor="middle" font-weight="bold" fill="#111">**</text>
</g>
<g>
<line x1="433.2" y1="421" x2="443.6" y2="421" stroke="#0a0a0a" stroke-width="0.7"/>
<rect x="443.6" y="413.21" width="11.3" height="8.69" fill="#060404"/>
<line x1="449.25" y1="412.51" x2="449.25" y2="413.21" stroke="#0a0a0a" stroke-width="1.2"/>
<line x1="447.65" y1="412.51" x2="450.85" y2="412.51" stroke="#0a0a0a" stroke-width="1.2"/>
<rect x="469.33" y="418.42" width="10.03" height="3.48" fill="#fff" stroke="#0a0a0a" stroke-width="0.75"/>
<rect x="479.36" y="408.59" width="11.3" height="13.31" fill="#060404"/>
<line x1="474.16" y1="417.63" x2="474.16" y2="418.47" stroke="#0a0a0a" stroke-width="1.2"/>
<line x1="472.56" y1="417.63" x2="475.76" y2="417.63" stroke="#0a0a0a" stroke-width="1.2"/>
<line x1="472.56" y1="418.47" x2="475.76" y2="418.47" stroke="#0a0a0a" stroke-width="1.2"/>
<line x1="485.01" y1="408.24" x2="485.01" y2="408.59" stroke="#0a0a0a" stroke-width="1.2"/>
<line x1="483.41" y1="408.24" x2="486.61" y2="408.24" stroke="#0a0a0a" stroke-width="1.2"/>
<rect x="505.32" y="408.32" width="9.8" height="13.58" fill="#fff" stroke="#0a0a0a" stroke-width="1.2"/>
<rect x="515.12" y="413.49" width="11.3" height="8.41" fill="#060404"/>
<line x1="509.92" y1="401.41" x2="509.92" y2="414.02" stroke="#0a0a0a" stroke-width="1.2"/>
<line x1="508.32" y1="401.41" x2="511.52" y2="401.41" stroke="#0a0a0a" stroke-width="1.2"/>
<line x1="508.32" y1="414.02" x2="511.52" y2="414.02" stroke="#0a0a0a" stroke-width="1.2"/>
<line x1="520.77" y1="412.44" x2="520.77" y2="413.49" stroke="#0a0a0a" stroke-width="1.2"/>
<line x1="519.17" y1="412.44" x2="522.37" y2="412.44" stroke="#0a0a0a" stroke-width="1.2"/>
<rect x="541.08" y="403.24" width="9.8" height="18.66" fill="#fff" stroke="#0a0a0a" stroke-width="1.2"/>
<rect x="550.88" y="287.06" width="11.3" height="134.84" fill="#060404"/>
<line x1="545.68" y1="402.29" x2="545.68" y2="402.99" stroke="#0a0a0a" stroke-width="1.2"/>
<line x1="544.08" y1="402.29" x2="547.28" y2="402.29" stroke="#0a0a0a" stroke-width="1.2"/>
<line x1="544.08" y1="402.99" x2="547.28" y2="402.99" stroke="#0a0a0a" stroke-width="1.2"/>
<line x1="556.53" y1="283.74" x2="556.53" y2="287.06" stroke="#0a0a0a" stroke-width="1.2"/>
<line x1="554.93" y1="283.74" x2="558.13" y2="283.74" stroke="#0a0a0a" stroke-width="1.2"/>
<line x1="576.24" y1="421" x2="586.64" y2="421" stroke="#0a0a0a" stroke-width="0.7"/>
<rect x="586.64" y="408.24" width="11.3" height="13.66" fill="#060404"/>
<line x1="592.29" y1="400.54" x2="592.29" y2="408.24" stroke="#0a0a0a" stroke-width="1.2"/>
<line x1="590.69" y1="400.54" x2="593.89" y2="400.54" stroke="#0a0a0a" stroke-width="1.2"/>
<rect x="612.6" y="407.79" width="9.8" height="14.11" fill="#fff" stroke="#0a0a0a" stroke-width="1.2"/>
<rect x="622.4" y="319.99" width="11.3" height="101.91" fill="#060404"/>
<line x1="617.2" y1="406.49" x2="617.2" y2="407.89" stroke="#0a0a0a" stroke-width="1.2"/>
<line x1="615.6" y1="406.49" x2="618.8" y2="406.49" stroke="#0a0a0a" stroke-width="1.2"/>
<line x1="615.6" y1="407.89" x2="618.8" y2="407.89" stroke="#0a0a0a" stroke-width="1.2"/>
<line x1="628.05" y1="314.21" x2="628.05" y2="319.99" stroke="#0a0a0a" stroke-width="1.2"/>
<line x1="626.45" y1="314.21" x2="629.65" y2="314.21" stroke="#0a0a0a" stroke-width="1.2"/>
<line x1="647.76" y1="421" x2="658.16" y2="421" stroke="#0a0a0a" stroke-width="0.7"/>
<rect x="658.16" y="408.59" width="11.3" height="13.31" fill="#060404"/>
<line x1="663.81" y1="406.49" x2="663.81" y2="408.59" stroke="#0a0a0a" stroke-width="1.2"/>
<line x1="662.21" y1="406.49" x2="665.41" y2="406.49" stroke="#0a0a0a" stroke-width="1.2"/>
<line x1="426.3" y1="263.65" x2="426.3" y2="422.55" stroke="#0a0a0a" stroke-width="1.3"/>
<line x1="423" y1="421.9" x2="676.62" y2="421.9" stroke="#0a0a0a" stroke-width="1.3"/>
<line x1="423" y1="421.9" x2="426.3" y2="421.9" stroke="#0a0a0a" stroke-width="1.3"/>
<line x1="423" y1="404.39" x2="426.3" y2="404.39" stroke="#0a0a0a" stroke-width="1.3"/>
<line x1="423" y1="386.88" x2="426.3" y2="386.88" stroke="#0a0a0a" stroke-width="1.3"/>
<line x1="423" y1="369.37" x2="426.3" y2="369.37" stroke="#0a0a0a" stroke-width="1.3"/>
<line x1="423" y1="351.86" x2="426.3" y2="351.86" stroke="#0a0a0a" stroke-width="1.3"/>
<line x1="423" y1="334.34" x2="426.3" y2="334.34" stroke="#0a0a0a" stroke-width="1.3"/>
<line x1="423" y1="316.83" x2="426.3" y2="316.83" stroke="#0a0a0a" stroke-width="1.3"/>
<line x1="423" y1="299.32" x2="426.3" y2="299.32" stroke="#0a0a0a" stroke-width="1.3"/>
<line x1="423" y1="281.81" x2="426.3" y2="281.81" stroke="#0a0a0a" stroke-width="1.3"/>
<line x1="423" y1="264.3" x2="426.3" y2="264.3" stroke="#0a0a0a" stroke-width="1.3"/>
<line x1="426.3" y1="421.9" x2="426.3" y2="425.2" stroke="#0a0a0a" stroke-width="1.3"/>
<line x1="462.06" y1="421.9" x2="462.06" y2="425.2" stroke="#0a0a0a" stroke-width="1.3"/>
<line x1="497.82" y1="421.9" x2="497.82" y2="425.2" stroke="#0a0a0a" stroke-width="1.3"/>
<line x1="533.58" y1="421.9" x2="533.58" y2="425.2" stroke="#0a0a0a" stroke-width="1.3"/>
<line x1="569.34" y1="421.9" x2="569.34" y2="425.2" stroke="#0a0a0a" stroke-width="1.3"/>
<line x1="605.1" y1="421.9" x2="605.1" y2="425.2" stroke="#0a0a0a" stroke-width="1.3"/>
<line x1="640.86" y1="421.9" x2="640.86" y2="425.2" stroke="#0a0a0a" stroke-width="1.3"/>
<line x1="676.62" y1="421.9" x2="676.62" y2="425.2" stroke="#0a0a0a" stroke-width="1.3"/>
<text x="419.5" y="424.96" font-size="8.5" text-anchor="end" fill="#1a1a1a" stroke="#1a1a1a" stroke-width="0.18">0</text>
<text x="419.5" y="407.45" font-size="8.5" text-anchor="end" fill="#1a1a1a" stroke="#1a1a1a" stroke-width="0.18">0.05</text>
<text x="419.5" y="389.94" font-size="8.5" text-anchor="end" fill="#1a1a1a" stroke="#1a1a1a" stroke-width="0.18">0.1</text>
<text x="419.5" y="372.43" font-size="8.5" text-anchor="end" fill="#1a1a1a" stroke="#1a1a1a" stroke-width="0.18">0.15</text>
<text x="419.5" y="354.92" font-size="8.5" text-anchor="end" fill="#1a1a1a" stroke="#1a1a1a" stroke-width="0.18">0.2</text>
<text x="419.5" y="337.4" font-size="8.5" text-anchor="end" fill="#1a1a1a" stroke="#1a1a1a" stroke-width="0.18">0.25</text>
<text x="419.5" y="319.89" font-size="8.5" text-anchor="end" fill="#1a1a1a" stroke="#1a1a1a" stroke-width="0.18">0.3</text>
<text x="419.5" y="302.38" font-size="8.5" text-anchor="end" fill="#1a1a1a" stroke="#1a1a1a" stroke-width="0.18">0.35</text>
<text x="419.5" y="284.87" font-size="8.5" text-anchor="end" fill="#1a1a1a" stroke="#1a1a1a" stroke-width="0.18">0.4</text>
<text x="419.5" y="267.36" font-size="8.5" text-anchor="end" fill="#1a1a1a" stroke="#1a1a1a" stroke-width="0.18">0.45</text>
<text x="444.18" y="441.7" font-size="10.6" text-anchor="middle" fill="#1a1a1a" stroke="#1a1a1a" stroke-width="0.18">S8</text>
<text x="479.94" y="441.7" font-size="10.6" text-anchor="middle" fill="#1a1a1a" stroke="#1a1a1a" stroke-width="0.18">S12</text>
<text x="515.7" y="441.7" font-size="10.6" text-anchor="middle" fill="#1a1a1a" stroke="#1a1a1a" stroke-width="0.18">S14</text>
<text x="551.46" y="441.7" font-size="10.6" text-anchor="middle" fill="#1a1a1a" stroke="#1a1a1a" stroke-width="0.18">S17</text>
<text x="587.22" y="441.7" font-size="10.6" text-anchor="middle" fill="#1a1a1a" stroke="#1a1a1a" stroke-width="0.18">S18</text>
<text x="622.98" y="441.7" font-size="10.6" text-anchor="middle" fill="#1a1a1a" stroke="#1a1a1a" stroke-width="0.18">S19</text>
<text x="658.74" y="441.7" font-size="10.6" text-anchor="middle" fill="#1a1a1a" stroke="#1a1a1a" stroke-width="0.18">S21</text>
<text x="448.5" y="409.76" font-size="8" text-anchor="middle" font-weight="bold" fill="#111">*</text>
<text x="484.8" y="405.26" font-size="8" text-anchor="middle" font-weight="bold" fill="#111">*</text>
<text x="556.3" y="281.76" font-size="8" text-anchor="middle" font-weight="bold" fill="#111">* *</text>
<text x="626.7" y="313.46" font-size="8" text-anchor="middle" font-weight="bold" fill="#111">* *</text>
<text x="663.2" y="404.46" font-size="8" text-anchor="middle" font-weight="bold" fill="#111">*</text>
<text x="532.7" y="262.8" font-size="14.1" font-weight="bold" font-style="italic" fill="#1a1a1a" stroke="#1a1a1a" stroke-width="0.25">NOX2</text>
</g>
<g>
<rect x="121.58" y="626.74" width="9.82" height="1.86" fill="#fff" stroke="#0a0a0a" stroke-width="0.75"/>
<rect x="131.4" y="621.22" width="11.1" height="7.38" fill="#060404"/>
<line x1="126.3" y1="626" x2="126.3" y2="626.72" stroke="#0a0a0a" stroke-width="1.2"/>
<line x1="124.7" y1="626" x2="127.9" y2="626" stroke="#0a0a0a" stroke-width="1.2"/>
<line x1="124.7" y1="626.72" x2="127.9" y2="626.72" stroke="#0a0a0a" stroke-width="1.2"/>
<line x1="136.95" y1="618.09" x2="136.95" y2="621.22" stroke="#0a0a0a" stroke-width="1.2"/>
<line x1="135.35" y1="618.09" x2="138.55" y2="618.09" stroke="#0a0a0a" stroke-width="1.2"/>
<rect x="157.34" y="626.98" width="9.82" height="1.62" fill="#fff" stroke="#0a0a0a" stroke-width="0.75"/>
<rect x="167.17" y="585.2" width="11.1" height="43.4" fill="#060404"/>
<line x1="162.07" y1="627.3" x2="162.07" y2="627.66" stroke="#0a0a0a" stroke-width="1.2"/>
<line x1="160.47" y1="627.3" x2="163.67" y2="627.3" stroke="#0a0a0a" stroke-width="1.2"/>
<line x1="160.47" y1="627.66" x2="163.67" y2="627.66" stroke="#0a0a0a" stroke-width="1.2"/>
<line x1="172.72" y1="584.75" x2="172.72" y2="585.2" stroke="#0a0a0a" stroke-width="1.2"/>
<line x1="171.12" y1="584.75" x2="174.32" y2="584.75" stroke="#0a0a0a" stroke-width="1.2"/>
<rect x="193.12" y="626.98" width="9.82" height="1.62" fill="#fff" stroke="#0a0a0a" stroke-width="0.75"/>
<rect x="202.94" y="515.85" width="11.1" height="112.75" fill="#060404"/>
<line x1="208.49" y1="498.85" x2="208.49" y2="515.85" stroke="#0a0a0a" stroke-width="1.2"/>
<line x1="206.89" y1="498.85" x2="210.09" y2="498.85" stroke="#0a0a0a" stroke-width="1.2"/>
<rect x="228.88" y="626.98" width="9.82" height="1.62" fill="#fff" stroke="#0a0a0a" stroke-width="0.75"/>
<rect x="238.71" y="584.3" width="11.1" height="44.3" fill="#060404"/>
<line x1="244.26" y1="578.49" x2="244.26" y2="584.3" stroke="#0a0a0a" stroke-width="1.2"/>
<line x1="242.66" y1="578.49" x2="245.86" y2="578.49" stroke="#0a0a0a" stroke-width="1.2"/>
<rect x="264.66" y="625.84" width="9.82" height="2.76" fill="#fff" stroke="#0a0a0a" stroke-width="0.75"/>
<rect x="274.48" y="621.44" width="11.1" height="7.16" fill="#060404"/>
<line x1="269.38" y1="625.24" x2="269.38" y2="625.69" stroke="#0a0a0a" stroke-width="1.2"/>
<line x1="267.78" y1="625.24" x2="270.98" y2="625.24" stroke="#0a0a0a" stroke-width="1.2"/>
<line x1="267.78" y1="625.69" x2="270.98" y2="625.69" stroke="#0a0a0a" stroke-width="1.2"/>
<line x1="280.03" y1="621.08" x2="280.03" y2="621.44" stroke="#0a0a0a" stroke-width="1.2"/>
<line x1="278.43" y1="621.08" x2="281.63" y2="621.08" stroke="#0a0a0a" stroke-width="1.2"/>
<line x1="300.05" y1="627.7" x2="310.25" y2="627.7" stroke="#0a0a0a" stroke-width="0.7"/>
<rect x="310.25" y="552.98" width="11.1" height="75.62" fill="#060404"/>
<line x1="315.8" y1="547.17" x2="315.8" y2="552.98" stroke="#0a0a0a" stroke-width="1.2"/>
<line x1="314.2" y1="547.17" x2="317.4" y2="547.17" stroke="#0a0a0a" stroke-width="1.2"/>
<rect x="336.42" y="619.8" width="9.6" height="8.8" fill="#fff" stroke="#0a0a0a" stroke-width="1.2"/>
<rect x="346.02" y="573.12" width="11.1" height="55.48" fill="#060404"/>
<line x1="340.92" y1="618.31" x2="340.92" y2="620.1" stroke="#0a0a0a" stroke-width="1.2"/>
<line x1="339.32" y1="618.31" x2="342.52" y2="618.31" stroke="#0a0a0a" stroke-width="1.2"/>
<line x1="339.32" y1="620.1" x2="342.52" y2="620.1" stroke="#0a0a0a" stroke-width="1.2"/>
<line x1="351.57" y1="557.91" x2="351.57" y2="573.12" stroke="#0a0a0a" stroke-width="1.2"/>
<line x1="349.97" y1="557.91" x2="353.17" y2="557.91" stroke="#0a0a0a" stroke-width="1.2"/>
<line x1="113.7" y1="471.35" x2="113.7" y2="629.25" stroke="#0a0a0a" stroke-width="1.3"/>
<line x1="110.9" y1="628.6" x2="364.09" y2="628.6" stroke="#0a0a0a" stroke-width="1.3"/>
<line x1="110.9" y1="628.6" x2="113.7" y2="628.6" stroke="#0a0a0a" stroke-width="1.3"/>
<line x1="110.9" y1="606.23" x2="113.7" y2="606.23" stroke="#0a0a0a" stroke-width="1.3"/>
<line x1="110.9" y1="583.86" x2="113.7" y2="583.86" stroke="#0a0a0a" stroke-width="1.3"/>
<line x1="110.9" y1="561.49" x2="113.7" y2="561.49" stroke="#0a0a0a" stroke-width="1.3"/>
<line x1="110.9" y1="539.11" x2="113.7" y2="539.11" stroke="#0a0a0a" stroke-width="1.3"/>
<line x1="110.9" y1="516.74" x2="113.7" y2="516.74" stroke="#0a0a0a" stroke-width="1.3"/>
<line x1="110.9" y1="494.37" x2="113.7" y2="494.37" stroke="#0a0a0a" stroke-width="1.3"/>
<line x1="110.9" y1="472" x2="113.7" y2="472" stroke="#0a0a0a" stroke-width="1.3"/>
<line x1="113.7" y1="628.6" x2="113.7" y2="631.4" stroke="#0a0a0a" stroke-width="1.3"/>
<line x1="149.47" y1="628.6" x2="149.47" y2="631.4" stroke="#0a0a0a" stroke-width="1.3"/>
<line x1="185.24" y1="628.6" x2="185.24" y2="631.4" stroke="#0a0a0a" stroke-width="1.3"/>
<line x1="221.01" y1="628.6" x2="221.01" y2="631.4" stroke="#0a0a0a" stroke-width="1.3"/>
<line x1="256.78" y1="628.6" x2="256.78" y2="631.4" stroke="#0a0a0a" stroke-width="1.3"/>
<line x1="292.55" y1="628.6" x2="292.55" y2="631.4" stroke="#0a0a0a" stroke-width="1.3"/>
<line x1="328.32" y1="628.6" x2="328.32" y2="631.4" stroke="#0a0a0a" stroke-width="1.3"/>
<line x1="364.09" y1="628.6" x2="364.09" y2="631.4" stroke="#0a0a0a" stroke-width="1.3"/>
<text x="106.8" y="631.66" font-size="8.5" text-anchor="end" fill="#1a1a1a" stroke="#1a1a1a" stroke-width="0.18">0</text>
<text x="106.8" y="609.29" font-size="8.5" text-anchor="end" fill="#1a1a1a" stroke="#1a1a1a" stroke-width="0.18">0.05</text>
<text x="106.8" y="586.92" font-size="8.5" text-anchor="end" fill="#1a1a1a" stroke="#1a1a1a" stroke-width="0.18">0.1</text>
<text x="106.8" y="564.55" font-size="8.5" text-anchor="end" fill="#1a1a1a" stroke="#1a1a1a" stroke-width="0.18">0.15</text>
<text x="106.8" y="542.17" font-size="8.5" text-anchor="end" fill="#1a1a1a" stroke="#1a1a1a" stroke-width="0.18">0.2</text>
<text x="106.8" y="519.8" font-size="8.5" text-anchor="end" fill="#1a1a1a" stroke="#1a1a1a" stroke-width="0.18">0.25</text>
<text x="106.8" y="497.43" font-size="8.5" text-anchor="end" fill="#1a1a1a" stroke="#1a1a1a" stroke-width="0.18">0.3</text>
<text x="106.8" y="475.06" font-size="8.5" text-anchor="end" fill="#1a1a1a" stroke="#1a1a1a" stroke-width="0.18">0.35</text>
<text x="131.59" y="649.2" font-size="10.8" text-anchor="middle" fill="#1a1a1a" stroke="#1a1a1a" stroke-width="0.18">S8</text>
<text x="167.36" y="649.2" font-size="10.8" text-anchor="middle" fill="#1a1a1a" stroke="#1a1a1a" stroke-width="0.18">S12</text>
<text x="203.12" y="649.2" font-size="10.8" text-anchor="middle" fill="#1a1a1a" stroke="#1a1a1a" stroke-width="0.18">S14</text>
<text x="238.9" y="649.2" font-size="10.8" text-anchor="middle" fill="#1a1a1a" stroke="#1a1a1a" stroke-width="0.18">S17</text>
<text x="274.67" y="649.2" font-size="10.8" text-anchor="middle" fill="#1a1a1a" stroke="#1a1a1a" stroke-width="0.18">S18</text>
<text x="310.44" y="649.2" font-size="10.8" text-anchor="middle" fill="#1a1a1a" stroke="#1a1a1a" stroke-width="0.18">S19</text>
<text x="346.21" y="649.2" font-size="10.8" text-anchor="middle" fill="#1a1a1a" stroke="#1a1a1a" stroke-width="0.18">S21</text>
<text x="208.2" y="496.46" font-size="8" text-anchor="middle" font-weight="bold" fill="#111">*</text>
<text x="243.4" y="572.06" font-size="8" text-anchor="middle" font-weight="bold" fill="#111">*</text>
<text x="278.9" y="619.36" font-size="8" text-anchor="middle" font-weight="bold" fill="#111">*</text>
<text x="315.4" y="543.16" font-size="8" text-anchor="middle" font-weight="bold" fill="#111">* *</text>
<text x="225" y="474.6" font-size="14" font-weight="bold" font-style="italic" fill="#1a1a1a" stroke="#1a1a1a" stroke-width="0.25">NOX3</text>
</g>
<g>
<rect x="410.7" y="621.01" width="9.7" height="7.19" fill="#fff" stroke="#0a0a0a" stroke-width="1.2"/>
<rect x="420.4" y="598.27" width="11.2" height="29.93" fill="#060404"/>
<line x1="415.25" y1="619.59" x2="415.25" y2="621.23" stroke="#0a0a0a" stroke-width="1.2"/>
<line x1="413.65" y1="619.59" x2="416.85" y2="619.59" stroke="#0a0a0a" stroke-width="1.2"/>
<line x1="413.65" y1="621.23" x2="416.85" y2="621.23" stroke="#0a0a0a" stroke-width="1.2"/>
<line x1="426" y1="593.76" x2="426" y2="598.27" stroke="#0a0a0a" stroke-width="1.2"/>
<line x1="424.4" y1="593.76" x2="427.6" y2="593.76" stroke="#0a0a0a" stroke-width="1.2"/>
<rect x="446.8" y="622.65" width="9.7" height="5.55" fill="#fff" stroke="#0a0a0a" stroke-width="1.2"/>
<rect x="456.5" y="561.17" width="11.2" height="67.04" fill="#060404"/>
<line x1="451.35" y1="620" x2="451.35" y2="624.1" stroke="#0a0a0a" stroke-width="1.2"/>
<line x1="449.75" y1="620" x2="452.95" y2="620" stroke="#0a0a0a" stroke-width="1.2"/>
<line x1="449.75" y1="624.1" x2="452.95" y2="624.1" stroke="#0a0a0a" stroke-width="1.2"/>
<line x1="462.1" y1="559.52" x2="462.1" y2="561.17" stroke="#0a0a0a" stroke-width="1.2"/>
<line x1="460.5" y1="559.52" x2="463.7" y2="559.52" stroke="#0a0a0a" stroke-width="1.2"/>
<rect x="482.9" y="574.89" width="9.7" height="53.32" fill="#fff" stroke="#0a0a0a" stroke-width="1.2"/>
<rect x="492.6" y="525.29" width="11.2" height="102.91" fill="#060404"/>
<line x1="487.45" y1="568.96" x2="487.45" y2="579.62" stroke="#0a0a0a" stroke-width="1.2"/>
<line x1="485.85" y1="568.96" x2="489.05" y2="568.96" stroke="#0a0a0a" stroke-width="1.2"/>
<line x1="485.85" y1="579.62" x2="489.05" y2="579.62" stroke="#0a0a0a" stroke-width="1.2"/>
<line x1="498.2" y1="524.06" x2="498.2" y2="525.29" stroke="#0a0a0a" stroke-width="1.2"/>
<line x1="496.6" y1="524.06" x2="499.8" y2="524.06" stroke="#0a0a0a" stroke-width="1.2"/>
<rect x="519" y="566.69" width="9.7" height="61.52" fill="#fff" stroke="#0a0a0a" stroke-width="1.2"/>
<rect x="528.7" y="622.87" width="11.2" height="5.33" fill="#060404"/>
<line x1="523.55" y1="551.74" x2="523.55" y2="580.44" stroke="#0a0a0a" stroke-width="1.2"/>
<line x1="521.95" y1="551.74" x2="525.15" y2="551.74" stroke="#0a0a0a" stroke-width="1.2"/>
<line x1="521.95" y1="580.44" x2="525.15" y2="580.44" stroke="#0a0a0a" stroke-width="1.2"/>
<line x1="534.3" y1="621.23" x2="534.3" y2="622.87" stroke="#0a0a0a" stroke-width="1.2"/>
<line x1="532.7" y1="621.23" x2="535.9" y2="621.23" stroke="#0a0a0a" stroke-width="1.2"/>
<rect x="555.1" y="602.15" width="9.7" height="26.05" fill="#fff" stroke="#0a0a0a" stroke-width="1.2"/>
<rect x="564.8" y="504.59" width="11.2" height="123.62" fill="#060404"/>
<line x1="559.65" y1="596.43" x2="559.65" y2="606.68" stroke="#0a0a0a" stroke-width="1.2"/>
<line x1="558.05" y1="596.43" x2="561.25" y2="596.43" stroke="#0a0a0a" stroke-width="1.2"/>
<line x1="558.05" y1="606.68" x2="561.25" y2="606.68" stroke="#0a0a0a" stroke-width="1.2"/>
<line x1="570.4" y1="496.59" x2="570.4" y2="504.59" stroke="#0a0a0a" stroke-width="1.2"/>
<line x1="568.8" y1="496.59" x2="572" y2="496.59" stroke="#0a0a0a" stroke-width="1.2"/>
<rect x="591.2" y="617.32" width="9.7" height="10.88" fill="#fff" stroke="#0a0a0a" stroke-width="1.2"/>
<rect x="600.9" y="558.5" width="11.2" height="69.7" fill="#060404"/>
<line x1="606.5" y1="552.35" x2="606.5" y2="558.5" stroke="#0a0a0a" stroke-width="1.2"/>
<line x1="604.9" y1="552.35" x2="608.1" y2="552.35" stroke="#0a0a0a" stroke-width="1.2"/>
<line x1="402.4" y1="484.05" x2="402.4" y2="628.85" stroke="#0a0a0a" stroke-width="1.3"/>
<line x1="400" y1="628.2" x2="619" y2="628.2" stroke="#0a0a0a" stroke-width="1.3"/>
<line x1="400" y1="628.2" x2="402.4" y2="628.2" stroke="#0a0a0a" stroke-width="1.3"/>
<line x1="400" y1="607.7" x2="402.4" y2="607.7" stroke="#0a0a0a" stroke-width="1.3"/>
<line x1="400" y1="587.2" x2="402.4" y2="587.2" stroke="#0a0a0a" stroke-width="1.3"/>
<line x1="400" y1="566.7" x2="402.4" y2="566.7" stroke="#0a0a0a" stroke-width="1.3"/>
<line x1="400" y1="546.2" x2="402.4" y2="546.2" stroke="#0a0a0a" stroke-width="1.3"/>
<line x1="400" y1="525.7" x2="402.4" y2="525.7" stroke="#0a0a0a" stroke-width="1.3"/>
<line x1="400" y1="505.2" x2="402.4" y2="505.2" stroke="#0a0a0a" stroke-width="1.3"/>
<line x1="400" y1="484.7" x2="402.4" y2="484.7" stroke="#0a0a0a" stroke-width="1.3"/>
<text transform="translate(395 632.02) scale(0.75 1)" font-size="10.6" text-anchor="end" fill="#1a1a1a" stroke="#1a1a1a" stroke-width="0.18">0</text>
<text transform="translate(395 611.52) scale(0.75 1)" font-size="10.6" text-anchor="end" fill="#1a1a1a" stroke="#1a1a1a" stroke-width="0.18">0.01</text>
<text transform="translate(395 591.02) scale(0.75 1)" font-size="10.6" text-anchor="end" fill="#1a1a1a" stroke="#1a1a1a" stroke-width="0.18">0.02</text>
<text transform="translate(395 570.52) scale(0.75 1)" font-size="10.6" text-anchor="end" fill="#1a1a1a" stroke="#1a1a1a" stroke-width="0.18">0.03</text>
<text transform="translate(395 550.02) scale(0.75 1)" font-size="10.6" text-anchor="end" fill="#1a1a1a" stroke="#1a1a1a" stroke-width="0.18">0.04</text>
<text transform="translate(395 529.52) scale(0.75 1)" font-size="10.6" text-anchor="end" fill="#1a1a1a" stroke="#1a1a1a" stroke-width="0.18">0.05</text>
<text transform="translate(395 509.02) scale(0.75 1)" font-size="10.6" text-anchor="end" fill="#1a1a1a" stroke="#1a1a1a" stroke-width="0.18">0.06</text>
<text transform="translate(395 488.52) scale(0.75 1)" font-size="10.6" text-anchor="end" fill="#1a1a1a" stroke="#1a1a1a" stroke-width="0.18">0.07</text>
<text transform="translate(420.45 648.2) scale(0.82 1)" font-size="11.6" text-anchor="middle" fill="#1a1a1a" stroke="#1a1a1a" stroke-width="0.18">S8</text>
<text transform="translate(456.55 648.2) scale(0.82 1)" font-size="11.6" text-anchor="middle" fill="#1a1a1a" stroke="#1a1a1a" stroke-width="0.18">S12</text>
<text transform="translate(492.65 648.2) scale(0.82 1)" font-size="11.6" text-anchor="middle" fill="#1a1a1a" stroke="#1a1a1a" stroke-width="0.18">S14</text>
<text transform="translate(528.75 648.2) scale(0.82 1)" font-size="11.6" text-anchor="middle" fill="#1a1a1a" stroke="#1a1a1a" stroke-width="0.18">S18</text>
<text transform="translate(564.85 648.2) scale(0.82 1)" font-size="11.6" text-anchor="middle" fill="#1a1a1a" stroke="#1a1a1a" stroke-width="0.18">S19</text>
<text transform="translate(600.95 646.4) scale(0.82 1)" font-size="11.6" text-anchor="middle" fill="#1a1a1a" stroke="#1a1a1a" stroke-width="0.18">S21</text>
<text x="426.8" y="589.96" font-size="8" text-anchor="middle" font-weight="bold" fill="#111">*</text>
<text x="461.8" y="551.36" font-size="8" text-anchor="middle" font-weight="bold" fill="#111">* *</text>
<text x="498.1" y="515.36" font-size="8" text-anchor="middle" font-weight="bold" fill="#111">*</text>
<text x="570.6" y="494.16" font-size="8" text-anchor="middle" font-weight="bold" fill="#111">* *</text>
<text x="606.6" y="548.26" font-size="8" text-anchor="middle" font-weight="bold" fill="#111">*</text>
<text x="524.2" y="473.4" font-size="14" font-weight="bold" font-style="italic" fill="#1a1a1a" stroke="#1a1a1a" stroke-width="0.25">NOS3</text>
</g>
<g>
<rect x="656.8" y="565.56" width="9.4" height="66.34" fill="#fff" stroke="#0a0a0a" stroke-width="1.2"/>
<rect x="666.2" y="505.33" width="9.8" height="126.57" fill="#060404"/>
<line x1="661.2" y1="561.47" x2="661.2" y2="568.44" stroke="#0a0a0a" stroke-width="1.2"/>
<line x1="659.6" y1="561.47" x2="662.8" y2="561.47" stroke="#0a0a0a" stroke-width="1.2"/>
<line x1="659.6" y1="568.44" x2="662.8" y2="568.44" stroke="#0a0a0a" stroke-width="1.2"/>
<line x1="671.1" y1="491.39" x2="671.1" y2="505.33" stroke="#0a0a0a" stroke-width="1.2"/>
<line x1="669.5" y1="491.39" x2="672.7" y2="491.39" stroke="#0a0a0a" stroke-width="1.2"/>
<line x1="650.3" y1="474.35" x2="650.3" y2="632.55" stroke="#0a0a0a" stroke-width="1.3"/>
<line x1="647.4" y1="631.9" x2="681.7" y2="631.9" stroke="#0a0a0a" stroke-width="1.3"/>
<line x1="647.4" y1="631.9" x2="650.3" y2="631.9" stroke="#0a0a0a" stroke-width="1.3"/>
<line x1="647.4" y1="614.47" x2="650.3" y2="614.47" stroke="#0a0a0a" stroke-width="1.3"/>
<line x1="647.4" y1="597.03" x2="650.3" y2="597.03" stroke="#0a0a0a" stroke-width="1.3"/>
<line x1="647.4" y1="579.6" x2="650.3" y2="579.6" stroke="#0a0a0a" stroke-width="1.3"/>
<line x1="647.4" y1="562.17" x2="650.3" y2="562.17" stroke="#0a0a0a" stroke-width="1.3"/>
<line x1="647.4" y1="544.73" x2="650.3" y2="544.73" stroke="#0a0a0a" stroke-width="1.3"/>
<line x1="647.4" y1="527.3" x2="650.3" y2="527.3" stroke="#0a0a0a" stroke-width="1.3"/>
<line x1="647.4" y1="509.87" x2="650.3" y2="509.87" stroke="#0a0a0a" stroke-width="1.3"/>
<line x1="647.4" y1="492.43" x2="650.3" y2="492.43" stroke="#0a0a0a" stroke-width="1.3"/>
<line x1="647.4" y1="475" x2="650.3" y2="475" stroke="#0a0a0a" stroke-width="1.3"/>
<line x1="650.3" y1="631.9" x2="650.3" y2="634.8" stroke="#0a0a0a" stroke-width="1.3"/>
<line x1="681.7" y1="631.9" x2="681.7" y2="634.8" stroke="#0a0a0a" stroke-width="1.3"/>
<text x="642.8" y="634.96" font-size="8.5" text-anchor="end" fill="#1a1a1a" stroke="#1a1a1a" stroke-width="0.18">0</text>
<text x="642.8" y="617.53" font-size="8.5" text-anchor="end" fill="#1a1a1a" stroke="#1a1a1a" stroke-width="0.18">0.05</text>
<text x="642.8" y="600.09" font-size="8.5" text-anchor="end" fill="#1a1a1a" stroke="#1a1a1a" stroke-width="0.18">0.1</text>
<text x="642.8" y="582.66" font-size="8.5" text-anchor="end" fill="#1a1a1a" stroke="#1a1a1a" stroke-width="0.18">0.15</text>
<text x="642.8" y="565.23" font-size="8.5" text-anchor="end" fill="#1a1a1a" stroke="#1a1a1a" stroke-width="0.18">0.2</text>
<text x="642.8" y="547.79" font-size="8.5" text-anchor="end" fill="#1a1a1a" stroke="#1a1a1a" stroke-width="0.18">0.25</text>
<text x="642.8" y="530.36" font-size="8.5" text-anchor="end" fill="#1a1a1a" stroke="#1a1a1a" stroke-width="0.18">0.3</text>
<text x="642.8" y="512.93" font-size="8.5" text-anchor="end" fill="#1a1a1a" stroke="#1a1a1a" stroke-width="0.18">0.35</text>
<text x="642.8" y="495.49" font-size="8.5" text-anchor="end" fill="#1a1a1a" stroke="#1a1a1a" stroke-width="0.18">0.4</text>
<text x="642.8" y="478.06" font-size="8.5" text-anchor="end" fill="#1a1a1a" stroke="#1a1a1a" stroke-width="0.18">0.45</text>
<text x="666.6" y="648.2" font-size="10.9" text-anchor="middle" fill="#1a1a1a" stroke="#1a1a1a" stroke-width="0.18">S17</text>
</g>
<rect x="169.5" y="700.7" width="9.9" height="9.5" fill="#fff" stroke="#1a1a1a" stroke-width="1.1"/>
<text transform="translate(183.1 709.8) scale(0.9 1)" font-size="11.8" fill="#222">SC</text>
<rect x="205.2" y="700" width="10.9" height="10.6" fill="#231f20"/>
<text transform="translate(217.7 709.8) scale(0.9 1)" font-size="11.8" fill="#222">VS</text>
<text transform="translate(59.4 867.8) rotate(-90)" font-size="11.75" fill="#222">Fluorescence (650/670 nm)</text>
<text transform="translate(72.4 833.6) rotate(-90)" font-size="11.9" fill="#222">arbitrary units</text>
<g>
<rect x="115.05" y="782.55" width="20.05" height="103.75" fill="#fff" stroke="#141414" stroke-width="1.3"/>
<rect x="135.1" y="739.21" width="21.7" height="147.09" fill="#231f20"/>
<line x1="124.75" y1="777.79" x2="124.75" y2="786.01" stroke="#151515" stroke-width="1"/>
<line x1="122.75" y1="777.79" x2="126.75" y2="777.79" stroke="#151515" stroke-width="1"/>
<line x1="122.75" y1="786.01" x2="126.75" y2="786.01" stroke="#151515" stroke-width="1"/>
<line x1="145.95" y1="734.07" x2="145.95" y2="739.21" stroke="#151515" stroke-width="1"/>
<line x1="143.95" y1="734.07" x2="147.95" y2="734.07" stroke="#151515" stroke-width="1"/>
<line x1="145.95" y1="739.21" x2="145.95" y2="744.36" stroke="#050505" stroke-width="1"/>
<line x1="143.95" y1="744.36" x2="147.95" y2="744.36" stroke="#050505" stroke-width="1"/>
<rect x="188.95" y="811.35" width="20.05" height="74.95" fill="#fff" stroke="#141414" stroke-width="1.3"/>
<rect x="209" y="745.9" width="21.7" height="140.4" fill="#231f20"/>
<line x1="198.65" y1="800.93" x2="198.65" y2="820.47" stroke="#151515" stroke-width="1"/>
<line x1="196.65" y1="800.93" x2="200.65" y2="800.93" stroke="#151515" stroke-width="1"/>
<line x1="196.65" y1="820.47" x2="200.65" y2="820.47" stroke="#151515" stroke-width="1"/>
<line x1="219.85" y1="739.73" x2="219.85" y2="745.9" stroke="#151515" stroke-width="1"/>
<line x1="217.85" y1="739.73" x2="221.85" y2="739.73" stroke="#151515" stroke-width="1"/>
<line x1="219.85" y1="745.9" x2="219.85" y2="752.07" stroke="#050505" stroke-width="1"/>
<line x1="217.85" y1="752.07" x2="221.85" y2="752.07" stroke="#050505" stroke-width="1"/>
<rect x="262.85" y="774.32" width="20.05" height="111.98" fill="#fff" stroke="#141414" stroke-width="1.3"/>
<rect x="282.9" y="736.64" width="21.7" height="149.66" fill="#231f20"/>
<line x1="272.55" y1="770.59" x2="272.55" y2="776.76" stroke="#151515" stroke-width="1"/>
<line x1="270.55" y1="770.59" x2="274.55" y2="770.59" stroke="#151515" stroke-width="1"/>
<line x1="270.55" y1="776.76" x2="274.55" y2="776.76" stroke="#151515" stroke-width="1"/>
<line x1="293.75" y1="728.41" x2="293.75" y2="736.64" stroke="#151515" stroke-width="1"/>
<line x1="291.75" y1="728.41" x2="295.75" y2="728.41" stroke="#151515" stroke-width="1"/>
<line x1="293.75" y1="736.64" x2="293.75" y2="744.87" stroke="#050505" stroke-width="1"/>
<line x1="291.75" y1="744.87" x2="295.75" y2="744.87" stroke="#050505" stroke-width="1"/>
<line x1="98.5" y1="705.85" x2="98.5" y2="886.75" stroke="#8a8a8a" stroke-width="0.9"/>
<line x1="95.5" y1="886.3" x2="320.2" y2="886.3" stroke="#8a8a8a" stroke-width="0.9"/>
<line x1="95.5" y1="886.3" x2="98.5" y2="886.3" stroke="#8a8a8a" stroke-width="0.9"/>
<line x1="95.5" y1="860.59" x2="98.5" y2="860.59" stroke="#8a8a8a" stroke-width="0.9"/>
<line x1="95.5" y1="834.87" x2="98.5" y2="834.87" stroke="#8a8a8a" stroke-width="0.9"/>
<line x1="95.5" y1="809.16" x2="98.5" y2="809.16" stroke="#8a8a8a" stroke-width="0.9"/>
<line x1="95.5" y1="783.44" x2="98.5" y2="783.44" stroke="#8a8a8a" stroke-width="0.9"/>
<line x1="95.5" y1="757.73" x2="98.5" y2="757.73" stroke="#8a8a8a" stroke-width="0.9"/>
<line x1="95.5" y1="732.01" x2="98.5" y2="732.01" stroke="#8a8a8a" stroke-width="0.9"/>
<line x1="95.5" y1="706.3" x2="98.5" y2="706.3" stroke="#8a8a8a" stroke-width="0.9"/>
<line x1="98.5" y1="886.3" x2="98.5" y2="889.5" stroke="#8a8a8a" stroke-width="0.9"/>
<line x1="172.4" y1="886.3" x2="172.4" y2="889.5" stroke="#8a8a8a" stroke-width="0.9"/>
<line x1="246.3" y1="886.3" x2="246.3" y2="889.5" stroke="#8a8a8a" stroke-width="0.9"/>
<line x1="320.2" y1="886.3" x2="320.2" y2="889.5" stroke="#8a8a8a" stroke-width="0.9"/>
<text transform="translate(91.7 889.39) scale(0.9 1)" font-size="12.2" text-anchor="end" fill="#222">0</text>
<text transform="translate(94.3 863.68) scale(0.9 1)" font-size="12.2" text-anchor="end" fill="#222">0.5</text>
<text transform="translate(91.7 837.96) scale(0.9 1)" font-size="12.2" text-anchor="end" fill="#222">1</text>
<text transform="translate(94.3 812.25) scale(0.9 1)" font-size="12.2" text-anchor="end" fill="#222">1.5</text>
<text transform="translate(91.7 786.53) scale(0.9 1)" font-size="12.2" text-anchor="end" fill="#222">2</text>
<text transform="translate(94.3 760.82) scale(0.9 1)" font-size="12.2" text-anchor="end" fill="#222">2.5</text>
<text transform="translate(91.7 735.11) scale(0.9 1)" font-size="12.2" text-anchor="end" fill="#222">3</text>
<text transform="translate(94.3 709.39) scale(0.9 1)" font-size="12.2" text-anchor="end" fill="#222">3.5</text>
<text transform="translate(138.45 901.9) scale(0.88 1)" font-size="12.2" text-anchor="middle" fill="#222">S8</text>
<text transform="translate(212.35 901.9) scale(0.88 1)" font-size="12.2" text-anchor="middle" fill="#222">S14</text>
<text transform="translate(286.25 901.9) scale(0.88 1)" font-size="12.2" text-anchor="middle" fill="#222">S17</text>
<text x="146" y="731.95" font-size="15" text-anchor="middle" font-weight="normal" fill="#333">*</text>
<text x="220" y="737.35" font-size="15" text-anchor="middle" font-weight="normal" fill="#333">**</text>
<text x="292.8" y="724.65" font-size="15" text-anchor="middle" font-weight="normal" fill="#333">*</text>
</g>
<text x="411.3" y="723.4" font-size="12" fill="#222">ROS</text>
<text x="478.7" y="723.4" font-size="12" fill="#222">Nuclei</text>
<text x="549.3" y="723.4" font-size="12" fill="#222">Merge</text>
<text x="367.4" y="770.3" font-size="12" fill="#222">SC</text>
<text x="367.4" y="840.4" font-size="12" fill="#222">VS</text>
<svg x="389.55" y="733" width="67.3" height="66.8" viewBox="0 0 66.8 66.8" preserveAspectRatio="none" overflow="hidden">
<rect width="66.8" height="66.8" fill="#0a0302"/>
<g fill="#581208" filter="url(#b1)">
<ellipse cx="21.98" cy="10.78" rx="0.7" ry="1.2" opacity="0.56" transform="rotate(35 21.98 10.78)"/>
<ellipse cx="5.69" cy="35.73" rx="0.7" ry="1.2" opacity="0.4" transform="rotate(35 5.69 35.73)"/>
<ellipse cx="4.76" cy="33.88" rx="0.7" ry="1.2" opacity="0.22" transform="rotate(35 4.76 33.88)"/>
<ellipse cx="29.1" cy="5.53" rx="0.7" ry="1.2" opacity="0.25" transform="rotate(35 29.1 5.53)"/>
<ellipse cx="28.51" cy="54.58" rx="0.7" ry="1.2" opacity="0.27" transform="rotate(35 28.51 54.58)"/>
<ellipse cx="15.47" cy="41.66" rx="0.7" ry="1.2" opacity="0.72" transform="rotate(35 15.47 41.66)"/>
<ellipse cx="38.4" cy="26.7" rx="0.7" ry="1.2" opacity="0.74" transform="rotate(35 38.4 26.7)"/>
<ellipse cx="4.02" cy="56.63" rx="0.7" ry="1.2" opacity="0.36" transform="rotate(35 4.02 56.63)"/>
<ellipse cx="10.35" cy="8.63" rx="0.7" ry="1.2" opacity="0.37" transform="rotate(35 10.35 8.63)"/>
<ellipse cx="53.88" cy="12.71" rx="0.7" ry="1.2" opacity="0.52" transform="rotate(35 53.88 12.71)"/>
<ellipse cx="42.4" cy="25.13" rx="0.7" ry="1.2" opacity="0.5" transform="rotate(35 42.4 25.13)"/>
<ellipse cx="5.07" cy="4.86" rx="0.7" ry="1.2" opacity="0.31" transform="rotate(35 5.07 4.86)"/>
<ellipse cx="45.09" cy="28.71" rx="0.7" ry="1.2" opacity="0.37" transform="rotate(35 45.09 28.71)"/>
<ellipse cx="38.94" cy="30.37" rx="0.7" ry="1.2" opacity="0.36" transform="rotate(35 38.94 30.37)"/>
<ellipse cx="52.48" cy="46.29" rx="0.7" ry="1.2" opacity="0.33" transform="rotate(35 52.48 46.29)"/>
<ellipse cx="38.22" cy="35.03" rx="0.7" ry="1.2" opacity="0.68" transform="rotate(35 38.22 35.03)"/>
<ellipse cx="48.27" cy="19.66" rx="0.7" ry="1.2" opacity="0.74" transform="rotate(35 48.27 19.66)"/>
<ellipse cx="8.65" cy="28.09" rx="0.7" ry="1.2" opacity="0.62" transform="rotate(35 8.65 28.09)"/>
<ellipse cx="10.85" cy="32.68" rx="0.7" ry="1.2" opacity="0.22" transform="rotate(35 10.85 32.68)"/>
<ellipse cx="44.3" cy="50.54" rx="0.7" ry="1.2" opacity="0.52" transform="rotate(35 44.3 50.54)"/>
<ellipse cx="57.73" cy="21.33" rx="0.7" ry="1.2" opacity="0.58" transform="rotate(35 57.73 21.33)"/>
<ellipse cx="39.52" cy="38.58" rx="0.7" ry="1.2" opacity="0.45" transform="rotate(35 39.52 38.58)"/>
<ellipse cx="55.43" cy="62.22" rx="0.7" ry="1.2" opacity="0.46" transform="rotate(35 55.43 62.22)"/>
<ellipse cx="44.04" cy="4.93" rx="0.7" ry="1.2" opacity="0.59" transform="rotate(35 44.04 4.93)"/>
<ellipse cx="42.93" cy="65.35" rx="0.7" ry="1.2" opacity="0.65" transform="rotate(35 42.93 65.35)"/>
<ellipse cx="19.44" cy="26" rx="0.7" ry="1.2" opacity="0.57" transform="rotate(35 19.44 26)"/>
<ellipse cx="2.46" cy="30.92" rx="0.7" ry="1.2" opacity="0.29" transform="rotate(35 2.46 30.92)"/>
<ellipse cx="8.59" cy="4.82" rx="0.7" ry="1.2" opacity="0.62" transform="rotate(35 8.59 4.82)"/>
<ellipse cx="9.38" cy="17.05" rx="0.7" ry="1.2" opacity="0.42" transform="rotate(35 9.38 17.05)"/>
<ellipse cx="57.47" cy="6.22" rx="0.7" ry="1.2" opacity="0.45" transform="rotate(35 57.47 6.22)"/>
<ellipse cx="36.6" cy="58.24" rx="0.7" ry="1.2" opacity="0.65" transform="rotate(35 36.6 58.24)"/>
<ellipse cx="56.99" cy="19.04" rx="0.7" ry="1.2" opacity="0.43" transform="rotate(35 56.99 19.04)"/>
<ellipse cx="24.25" cy="58.3" rx="0.7" ry="1.2" opacity="0.73" transform="rotate(35 24.25 58.3)"/>
<ellipse cx="10.78" cy="12.42" rx="0.7" ry="1.2" opacity="0.33" transform="rotate(35 10.78 12.42)"/>
<ellipse cx="16.12" cy="32.43" rx="0.7" ry="1.2" opacity="0.52" transform="rotate(35 16.12 32.43)"/>
<ellipse cx="18.03" cy="1.27" rx="0.7" ry="1.2" opacity="0.43" transform="rotate(35 18.03 1.27)"/>
<ellipse cx="24.93" cy="37.7" rx="0.7" ry="1.2" opacity="0.72" transform="rotate(35 24.93 37.7)"/>
<ellipse cx="45.74" cy="34.4" rx="0.7" ry="1.2" opacity="0.54" transform="rotate(35 45.74 34.4)"/>
<ellipse cx="44.82" cy="4.5" rx="0.7" ry="1.2" opacity="0.69" transform="rotate(35 44.82 4.5)"/>
<ellipse cx="51.54" cy="57.67" rx="0.7" ry="1.2" opacity="0.64" transform="rotate(35 51.54 57.67)"/>
<ellipse cx="26.43" cy="26.85" rx="0.7" ry="1.2" opacity="0.26" transform="rotate(35 26.43 26.85)"/>
<ellipse cx="42.1" cy="5.03" rx="0.7" ry="1.2" opacity="0.24" transform="rotate(35 42.1 5.03)"/>
<ellipse cx="14.53" cy="11.52" rx="0.7" ry="1.2" opacity="0.39" transform="rotate(35 14.53 11.52)"/>
<ellipse cx="4.41" cy="1.02" rx="0.7" ry="1.2" opacity="0.28" transform="rotate(35 4.41 1.02)"/>
<ellipse cx="7.57" cy="24.56" rx="0.7" ry="1.2" opacity="0.21" transform="rotate(35 7.57 24.56)"/>
<ellipse cx="57.66" cy="40.79" rx="0.7" ry="1.2" opacity="0.28" transform="rotate(35 57.66 40.79)"/>
<ellipse cx="17.35" cy="23.51" rx="0.7" ry="1.2" opacity="0.4" transform="rotate(35 17.35 23.51)"/>
<ellipse cx="8.96" cy="56.01" rx="0.7" ry="1.2" opacity="0.75" transform="rotate(35 8.96 56.01)"/>
<ellipse cx="31.2" cy="32.35" rx="0.7" ry="1.2" opacity="0.25" transform="rotate(35 31.2 32.35)"/>
<ellipse cx="7.62" cy="23.2" rx="0.7" ry="1.2" opacity="0.35" transform="rotate(35 7.62 23.2)"/>
<ellipse cx="54.71" cy="11.46" rx="0.7" ry="1.2" opacity="0.21" transform="rotate(35 54.71 11.46)"/>
<ellipse cx="62.62" cy="35.23" rx="0.7" ry="1.2" opacity="0.28" transform="rotate(35 62.62 35.23)"/>
<ellipse cx="36.2" cy="2.75" rx="0.7" ry="1.2" opacity="0.49" transform="rotate(35 36.2 2.75)"/>
<ellipse cx="64.41" cy="56.94" rx="0.7" ry="1.2" opacity="0.58" transform="rotate(35 64.41 56.94)"/>
<ellipse cx="17.92" cy="24.76" rx="0.7" ry="1.2" opacity="0.29" transform="rotate(35 17.92 24.76)"/>
<ellipse cx="51.02" cy="35.51" rx="0.7" ry="1.2" opacity="0.63" transform="rotate(35 51.02 35.51)"/>
<ellipse cx="22.36" cy="15.45" rx="0.7" ry="1.2" opacity="0.65" transform="rotate(35 22.36 15.45)"/>
<ellipse cx="64.82" cy="56.25" rx="0.7" ry="1.2" opacity="0.64" transform="rotate(35 64.82 56.25)"/>
<ellipse cx="54.03" cy="48.94" rx="0.7" ry="1.2" opacity="0.32" transform="rotate(35 54.03 48.94)"/>
<ellipse cx="34.54" cy="24.04" rx="0.7" ry="1.2" opacity="0.22" transform="rotate(35 34.54 24.04)"/>
<ellipse cx="2.81" cy="19.11" rx="0.7" ry="1.2" opacity="0.34" transform="rotate(35 2.81 19.11)"/>
<ellipse cx="45.88" cy="62.98" rx="0.7" ry="1.2" opacity="0.45" transform="rotate(35 45.88 62.98)"/>
<ellipse cx="61.72" cy="65.02" rx="0.7" ry="1.2" opacity="0.73" transform="rotate(35 61.72 65.02)"/>
<ellipse cx="24.63" cy="15.29" rx="0.7" ry="1.2" opacity="0.32" transform="rotate(35 24.63 15.29)"/>
<ellipse cx="13.75" cy="14.24" rx="0.7" ry="1.2" opacity="0.54" transform="rotate(35 13.75 14.24)"/>
<ellipse cx="59.34" cy="55.46" rx="0.7" ry="1.2" opacity="0.46" transform="rotate(35 59.34 55.46)"/>
<ellipse cx="43.31" cy="52.82" rx="0.7" ry="1.2" opacity="0.25" transform="rotate(35 43.31 52.82)"/>
<ellipse cx="43.81" cy="59.95" rx="0.7" ry="1.2" opacity="0.63" transform="rotate(35 43.81 59.95)"/>
<ellipse cx="49.61" cy="31.98" rx="0.7" ry="1.2" opacity="0.3" transform="rotate(35 49.61 31.98)"/>
<ellipse cx="52.14" cy="22.55" rx="0.7" ry="1.2" opacity="0.64" transform="rotate(35 52.14 22.55)"/>
<ellipse cx="63.96" cy="26.65" rx="0.7" ry="1.2" opacity="0.42" transform="rotate(35 63.96 26.65)"/>
<ellipse cx="62.35" cy="47.97" rx="0.7" ry="1.2" opacity="0.29" transform="rotate(35 62.35 47.97)"/>
<ellipse cx="9.23" cy="10.79" rx="0.7" ry="1.2" opacity="0.7" transform="rotate(35 9.23 10.79)"/>
<ellipse cx="53.26" cy="10.47" rx="0.7" ry="1.2" opacity="0.65" transform="rotate(35 53.26 10.47)"/>
<ellipse cx="64.52" cy="43.59" rx="0.7" ry="1.2" opacity="0.39" transform="rotate(35 64.52 43.59)"/>
<ellipse cx="36.55" cy="9.49" rx="0.7" ry="1.2" opacity="0.21" transform="rotate(35 36.55 9.49)"/>
<ellipse cx="63.91" cy="43.1" rx="0.7" ry="1.2" opacity="0.49" transform="rotate(35 63.91 43.1)"/>
<ellipse cx="61.5" cy="29.11" rx="0.7" ry="1.2" opacity="0.68" transform="rotate(35 61.5 29.11)"/>
<ellipse cx="54.53" cy="14.68" rx="0.7" ry="1.2" opacity="0.34" transform="rotate(35 54.53 14.68)"/>
<ellipse cx="19.98" cy="16.59" rx="0.7" ry="1.2" opacity="0.52" transform="rotate(35 19.98 16.59)"/>
<ellipse cx="17.81" cy="28.15" rx="0.7" ry="1.2" opacity="0.27" transform="rotate(35 17.81 28.15)"/>
<ellipse cx="59.97" cy="23.93" rx="0.7" ry="1.2" opacity="0.45" transform="rotate(35 59.97 23.93)"/>
<ellipse cx="38.8" cy="59.6" rx="0.7" ry="1.2" opacity="0.43" transform="rotate(35 38.8 59.6)"/>
<ellipse cx="60.47" cy="33.51" rx="0.7" ry="1.2" opacity="0.49" transform="rotate(35 60.47 33.51)"/>
<ellipse cx="34.92" cy="2.21" rx="0.7" ry="1.2" opacity="0.44" transform="rotate(35 34.92 2.21)"/>
<ellipse cx="12.87" cy="1.25" rx="0.7" ry="1.2" opacity="0.64" transform="rotate(35 12.87 1.25)"/>
<ellipse cx="12.17" cy="31.68" rx="0.7" ry="1.2" opacity="0.6" transform="rotate(35 12.17 31.68)"/>
<ellipse cx="37.06" cy="22.12" rx="0.7" ry="1.2" opacity="0.49" transform="rotate(35 37.06 22.12)"/>
<ellipse cx="36.99" cy="51.82" rx="0.7" ry="1.2" opacity="0.26" transform="rotate(35 36.99 51.82)"/>
<ellipse cx="37.31" cy="17.1" rx="0.7" ry="1.2" opacity="0.35" transform="rotate(35 37.31 17.1)"/>
<ellipse cx="51.04" cy="33.9" rx="0.7" ry="1.2" opacity="0.51" transform="rotate(35 51.04 33.9)"/>
<ellipse cx="50.25" cy="60.13" rx="0.7" ry="1.2" opacity="0.44" transform="rotate(35 50.25 60.13)"/>
<ellipse cx="40.69" cy="33.76" rx="0.7" ry="1.2" opacity="0.48" transform="rotate(35 40.69 33.76)"/>
<ellipse cx="45.89" cy="30.31" rx="0.7" ry="1.2" opacity="0.49" transform="rotate(35 45.89 30.31)"/>
<ellipse cx="31.98" cy="62.01" rx="0.7" ry="1.2" opacity="0.58" transform="rotate(35 31.98 62.01)"/>
<ellipse cx="57.8" cy="62.05" rx="0.7" ry="1.2" opacity="0.34" transform="rotate(35 57.8 62.05)"/>
<ellipse cx="37.26" cy="62.12" rx="0.7" ry="1.2" opacity="0.66" transform="rotate(35 37.26 62.12)"/>
<ellipse cx="9.89" cy="8.88" rx="0.7" ry="1.2" opacity="0.44" transform="rotate(35 9.89 8.88)"/>
<ellipse cx="5.7" cy="16.59" rx="0.7" ry="1.2" opacity="0.24" transform="rotate(35 5.7 16.59)"/>
<ellipse cx="44.38" cy="51.8" rx="0.7" ry="1.2" opacity="0.69" transform="rotate(35 44.38 51.8)"/>
<ellipse cx="11.01" cy="47.4" rx="0.7" ry="1.2" opacity="0.56" transform="rotate(35 11.01 47.4)"/>
<ellipse cx="10.27" cy="58.21" rx="0.7" ry="1.2" opacity="0.73" transform="rotate(35 10.27 58.21)"/>
<ellipse cx="15.23" cy="62.72" rx="0.7" ry="1.2" opacity="0.42" transform="rotate(35 15.23 62.72)"/>
<ellipse cx="32.57" cy="65.14" rx="0.7" ry="1.2" opacity="0.66" transform="rotate(35 32.57 65.14)"/>
<ellipse cx="11.46" cy="28.96" rx="0.7" ry="1.2" opacity="0.48" transform="rotate(35 11.46 28.96)"/>
<ellipse cx="22.97" cy="13.68" rx="0.7" ry="1.2" opacity="0.38" transform="rotate(35 22.97 13.68)"/>
<ellipse cx="47.8" cy="2.26" rx="0.7" ry="1.2" opacity="0.5" transform="rotate(35 47.8 2.26)"/>
<ellipse cx="29.54" cy="2.17" rx="0.7" ry="1.2" opacity="0.38" transform="rotate(35 29.54 2.17)"/>
<ellipse cx="41.43" cy="34.19" rx="0.7" ry="1.2" opacity="0.24" transform="rotate(35 41.43 34.19)"/>
<ellipse cx="64.83" cy="52.09" rx="0.7" ry="1.2" opacity="0.73" transform="rotate(35 64.83 52.09)"/>
<ellipse cx="7.79" cy="18.21" rx="0.7" ry="1.2" opacity="0.22" transform="rotate(35 7.79 18.21)"/>
<ellipse cx="51.48" cy="18.52" rx="0.7" ry="1.2" opacity="0.27" transform="rotate(35 51.48 18.52)"/>
<ellipse cx="28.36" cy="60.06" rx="0.7" ry="1.2" opacity="0.65" transform="rotate(35 28.36 60.06)"/>
<ellipse cx="17.76" cy="10.68" rx="0.7" ry="1.2" opacity="0.71" transform="rotate(35 17.76 10.68)"/>
<ellipse cx="37.97" cy="46.39" rx="0.7" ry="1.2" opacity="0.25" transform="rotate(35 37.97 46.39)"/>
<ellipse cx="4.73" cy="45.6" rx="0.7" ry="1.2" opacity="0.43" transform="rotate(35 4.73 45.6)"/>
<ellipse cx="5.69" cy="61.81" rx="0.7" ry="1.2" opacity="0.55" transform="rotate(35 5.69 61.81)"/>
<ellipse cx="52.95" cy="6.43" rx="0.7" ry="1.2" opacity="0.67" transform="rotate(35 52.95 6.43)"/>
<ellipse cx="5.32" cy="56.91" rx="0.7" ry="1.2" opacity="0.45" transform="rotate(35 5.32 56.91)"/>
<ellipse cx="22.98" cy="36.84" rx="0.7" ry="1.2" opacity="0.71" transform="rotate(35 22.98 36.84)"/>
<ellipse cx="18.36" cy="9.37" rx="0.7" ry="1.2" opacity="0.49" transform="rotate(35 18.36 9.37)"/>
<ellipse cx="16.45" cy="8.09" rx="0.7" ry="1.2" opacity="0.29" transform="rotate(35 16.45 8.09)"/>
<ellipse cx="4.26" cy="14.07" rx="0.7" ry="1.2" opacity="0.37" transform="rotate(35 4.26 14.07)"/>
<ellipse cx="20.76" cy="50.22" rx="0.7" ry="1.2" opacity="0.36" transform="rotate(35 20.76 50.22)"/>
<ellipse cx="33.41" cy="12.53" rx="0.7" ry="1.2" opacity="0.39" transform="rotate(35 33.41 12.53)"/>
<ellipse cx="2.18" cy="17.23" rx="0.7" ry="1.2" opacity="0.21" transform="rotate(35 2.18 17.23)"/>
<ellipse cx="48.5" cy="36.71" rx="0.7" ry="1.2" opacity="0.3" transform="rotate(35 48.5 36.71)"/>
<ellipse cx="31.76" cy="61.56" rx="0.7" ry="1.2" opacity="0.26" transform="rotate(35 31.76 61.56)"/>
<ellipse cx="54.07" cy="29.01" rx="0.7" ry="1.2" opacity="0.47" transform="rotate(35 54.07 29.01)"/>
<ellipse cx="55.08" cy="26.47" rx="0.7" ry="1.2" opacity="0.48" transform="rotate(35 55.08 26.47)"/>
<ellipse cx="45.57" cy="64.66" rx="0.7" ry="1.2" opacity="0.39" transform="rotate(35 45.57 64.66)"/>
<ellipse cx="54.93" cy="46.8" rx="0.7" ry="1.2" opacity="0.55" transform="rotate(35 54.93 46.8)"/>
<ellipse cx="27.22" cy="23.52" rx="0.7" ry="1.2" opacity="0.23" transform="rotate(35 27.22 23.52)"/>
<ellipse cx="9.41" cy="5.58" rx="0.7" ry="1.2" opacity="0.61" transform="rotate(35 9.41 5.58)"/>
<ellipse cx="17.56" cy="11.58" rx="0.7" ry="1.2" opacity="0.25" transform="rotate(35 17.56 11.58)"/>
<ellipse cx="55.51" cy="57.41" rx="0.7" ry="1.2" opacity="0.57" transform="rotate(35 55.51 57.41)"/>
<ellipse cx="19.27" cy="16.7" rx="0.7" ry="1.2" opacity="0.36" transform="rotate(35 19.27 16.7)"/>
<ellipse cx="30.77" cy="11.21" rx="0.7" ry="1.2" opacity="0.45" transform="rotate(35 30.77 11.21)"/>
<ellipse cx="18.06" cy="63.32" rx="0.7" ry="1.2" opacity="0.73" transform="rotate(35 18.06 63.32)"/>
<ellipse cx="36.45" cy="16.84" rx="0.7" ry="1.2" opacity="0.73" transform="rotate(35 36.45 16.84)"/>
<ellipse cx="21.06" cy="24.11" rx="0.7" ry="1.2" opacity="0.2" transform="rotate(35 21.06 24.11)"/>
<ellipse cx="25.73" cy="31.76" rx="0.7" ry="1.2" opacity="0.48" transform="rotate(35 25.73 31.76)"/>
<ellipse cx="14.02" cy="33.71" rx="0.7" ry="1.2" opacity="0.2" transform="rotate(35 14.02 33.71)"/>
<ellipse cx="18.12" cy="6.82" rx="0.7" ry="1.2" opacity="0.42" transform="rotate(35 18.12 6.82)"/>
<ellipse cx="3.7" cy="2.46" rx="0.7" ry="1.2" opacity="0.37" transform="rotate(35 3.7 2.46)"/>
<ellipse cx="16.09" cy="38.95" rx="0.7" ry="1.2" opacity="0.49" transform="rotate(35 16.09 38.95)"/>
<ellipse cx="49.64" cy="43.61" rx="0.7" ry="1.2" opacity="0.59" transform="rotate(35 49.64 43.61)"/>
<ellipse cx="57.97" cy="26.24" rx="0.7" ry="1.2" opacity="0.38" transform="rotate(35 57.97 26.24)"/>
<ellipse cx="64.81" cy="10.69" rx="0.7" ry="1.2" opacity="0.6" transform="rotate(35 64.81 10.69)"/>
<ellipse cx="42.68" cy="3.84" rx="0.7" ry="1.2" opacity="0.66" transform="rotate(35 42.68 3.84)"/>
<ellipse cx="58.8" cy="41.65" rx="0.7" ry="1.2" opacity="0.6" transform="rotate(35 58.8 41.65)"/>
<ellipse cx="53.63" cy="10.03" rx="0.7" ry="1.2" opacity="0.49" transform="rotate(35 53.63 10.03)"/>
<ellipse cx="33.68" cy="55.1" rx="0.7" ry="1.2" opacity="0.64" transform="rotate(35 33.68 55.1)"/>
<ellipse cx="54.55" cy="38.85" rx="0.7" ry="1.2" opacity="0.69" transform="rotate(35 54.55 38.85)"/>
<ellipse cx="45.25" cy="45.93" rx="0.7" ry="1.2" opacity="0.33" transform="rotate(35 45.25 45.93)"/>
<ellipse cx="3.02" cy="9.62" rx="0.7" ry="1.2" opacity="0.4" transform="rotate(35 3.02 9.62)"/>
<ellipse cx="7.8" cy="55.16" rx="0.7" ry="1.2" opacity="0.51" transform="rotate(35 7.8 55.16)"/>
<ellipse cx="41.68" cy="41.58" rx="0.7" ry="1.2" opacity="0.57" transform="rotate(35 41.68 41.58)"/>
<ellipse cx="32.71" cy="1.21" rx="0.7" ry="1.2" opacity="0.64" transform="rotate(35 32.71 1.21)"/>
<ellipse cx="49.49" cy="33.59" rx="0.7" ry="1.2" opacity="0.49" transform="rotate(35 49.49 33.59)"/>
<ellipse cx="43.72" cy="5.28" rx="0.7" ry="1.2" opacity="0.61" transform="rotate(35 43.72 5.28)"/>
<ellipse cx="17.34" cy="5.82" rx="0.7" ry="1.2" opacity="0.35" transform="rotate(35 17.34 5.82)"/>
<ellipse cx="48.26" cy="14.3" rx="0.7" ry="1.2" opacity="0.61" transform="rotate(35 48.26 14.3)"/>
<ellipse cx="64.23" cy="33.01" rx="0.7" ry="1.2" opacity="0.41" transform="rotate(35 64.23 33.01)"/>
<ellipse cx="32.04" cy="45.3" rx="0.7" ry="1.2" opacity="0.62" transform="rotate(35 32.04 45.3)"/>
<ellipse cx="40.98" cy="42.65" rx="0.7" ry="1.2" opacity="0.24" transform="rotate(35 40.98 42.65)"/>
<ellipse cx="10.55" cy="17.46" rx="0.7" ry="1.2" opacity="0.61" transform="rotate(35 10.55 17.46)"/>
<ellipse cx="20.73" cy="37.79" rx="0.7" ry="1.2" opacity="0.21" transform="rotate(35 20.73 37.79)"/>
<ellipse cx="4.93" cy="18.42" rx="0.7" ry="1.2" opacity="0.57" transform="rotate(35 4.93 18.42)"/>
<ellipse cx="45.85" cy="44.79" rx="0.7" ry="1.2" opacity="0.36" transform="rotate(35 45.85 44.79)"/>
<ellipse cx="34.47" cy="31.11" rx="0.7" ry="1.2" opacity="0.46" transform="rotate(35 34.47 31.11)"/>
<ellipse cx="8.68" cy="58.91" rx="0.7" ry="1.2" opacity="0.31" transform="rotate(35 8.68 58.91)"/>
<ellipse cx="64.38" cy="61.67" rx="0.7" ry="1.2" opacity="0.21" transform="rotate(35 64.38 61.67)"/>
<ellipse cx="30.74" cy="54.13" rx="0.7" ry="1.2" opacity="0.73" transform="rotate(35 30.74 54.13)"/>
<ellipse cx="30.12" cy="18.41" rx="0.7" ry="1.2" opacity="0.32" transform="rotate(35 30.12 18.41)"/>
<ellipse cx="62.27" cy="14.65" rx="0.7" ry="1.2" opacity="0.52" transform="rotate(35 62.27 14.65)"/>
<ellipse cx="10.18" cy="34.96" rx="0.7" ry="1.2" opacity="0.72" transform="rotate(35 10.18 34.96)"/>
<ellipse cx="9.59" cy="54.15" rx="0.7" ry="1.2" opacity="0.48" transform="rotate(35 9.59 54.15)"/>
<ellipse cx="58.47" cy="46.58" rx="0.7" ry="1.2" opacity="0.33" transform="rotate(35 58.47 46.58)"/>
<ellipse cx="59.17" cy="32.5" rx="0.7" ry="1.2" opacity="0.21" transform="rotate(35 59.17 32.5)"/>
<ellipse cx="1.23" cy="32.86" rx="0.7" ry="1.2" opacity="0.45" transform="rotate(35 1.23 32.86)"/>
<ellipse cx="20.57" cy="10.12" rx="0.7" ry="1.2" opacity="0.39" transform="rotate(35 20.57 10.12)"/>
<ellipse cx="21.48" cy="55.45" rx="0.7" ry="1.2" opacity="0.2" transform="rotate(35 21.48 55.45)"/>
<ellipse cx="49.65" cy="55.37" rx="0.7" ry="1.2" opacity="0.27" transform="rotate(35 49.65 55.37)"/>
<ellipse cx="61.03" cy="47.2" rx="0.7" ry="1.2" opacity="0.7" transform="rotate(35 61.03 47.2)"/>
<ellipse cx="19.78" cy="25.12" rx="0.7" ry="1.2" opacity="0.42" transform="rotate(35 19.78 25.12)"/>
<ellipse cx="65.72" cy="39.18" rx="0.7" ry="1.2" opacity="0.4" transform="rotate(35 65.72 39.18)"/>
<ellipse cx="28.74" cy="18.83" rx="0.7" ry="1.2" opacity="0.23" transform="rotate(35 28.74 18.83)"/>
<ellipse cx="7.59" cy="55.09" rx="0.7" ry="1.2" opacity="0.36" transform="rotate(35 7.59 55.09)"/>
<ellipse cx="61.63" cy="17.16" rx="0.7" ry="1.2" opacity="0.35" transform="rotate(35 61.63 17.16)"/>
</g>
</svg>
<svg x="461.95" y="733" width="67" height="66.8" viewBox="0 0 66.8 66.8" preserveAspectRatio="none" overflow="hidden">
<rect width="66.8" height="66.8" fill="#0d101e"/>
<g fill="#364aac" opacity="1" filter="url(#b1)">
<ellipse cx="8.29" cy="1.86" rx="1.3" ry="1.75" transform="rotate(40 8.29 1.86)"/>
<ellipse cx="5.7" cy="4.35" rx="1.3" ry="1.75" transform="rotate(0 5.7 4.35)"/>
<ellipse cx="4.66" cy="8.8" rx="1.3" ry="1.75" transform="rotate(-20 4.66 8.8)"/>
<ellipse cx="5.18" cy="14.19" rx="1.3" ry="1.75" transform="rotate(90 5.18 14.19)"/>
<ellipse cx="2.59" cy="18.12" rx="1.3" ry="1.75" transform="rotate(0 2.59 18.12)"/>
<ellipse cx="4.45" cy="26.41" rx="1.3" ry="1.75" transform="rotate(90 4.45 26.41)"/>
<ellipse cx="0.72" cy="28.79" rx="1.3" ry="1.75" transform="rotate(20 0.72 28.79)"/>
<ellipse cx="3.11" cy="41.22" rx="1.3" ry="1.75" transform="rotate(-40 3.11 41.22)"/>
<ellipse cx="0.83" cy="55.41" rx="1.3" ry="1.75" transform="rotate(90 0.83 55.41)"/>
<ellipse cx="7.77" cy="55.2" rx="1.3" ry="1.75" transform="rotate(90 7.77 55.2)"/>
<ellipse cx="5.18" cy="65.25" rx="1.3" ry="1.75" transform="rotate(60 5.18 65.25)"/>
<ellipse cx="13.98" cy="5.7" rx="1.3" ry="1.75" transform="rotate(20 13.98 5.7)"/>
<ellipse cx="14.5" cy="12.43" rx="1.3" ry="1.75" transform="rotate(40 14.5 12.43)"/>
<ellipse cx="12.12" cy="22.78" rx="1.3" ry="1.75" transform="rotate(40 12.12 22.78)"/>
<ellipse cx="19.68" cy="25.89" rx="1.3" ry="1.75" transform="rotate(-20 19.68 25.89)"/>
<ellipse cx="16.88" cy="31.07" rx="1.3" ry="1.75" transform="rotate(60 16.88 31.07)"/>
<ellipse cx="19.68" cy="32.42" rx="1.3" ry="1.75" transform="rotate(-40 19.68 32.42)"/>
<ellipse cx="13.67" cy="35.42" rx="1.3" ry="1.75" transform="rotate(-40 13.67 35.42)"/>
<ellipse cx="13.46" cy="49.71" rx="1.3" ry="1.75" transform="rotate(60 13.46 49.71)"/>
<ellipse cx="10.36" cy="51.78" rx="1.3" ry="1.75" transform="rotate(20 10.36 51.78)"/>
<ellipse cx="12.95" cy="62.97" rx="1.3" ry="1.75" transform="rotate(20 12.95 62.97)"/>
<ellipse cx="20.92" cy="3.62" rx="1.3" ry="1.75" transform="rotate(40 20.92 3.62)"/>
<ellipse cx="23.82" cy="3.94" rx="1.3" ry="1.75" transform="rotate(90 23.82 3.94)"/>
<ellipse cx="23.51" cy="9.84" rx="1.3" ry="1.75" transform="rotate(-20 23.51 9.84)"/>
<ellipse cx="27.44" cy="8.29" rx="1.3" ry="1.75" transform="rotate(60 27.44 8.29)"/>
<ellipse cx="28.27" cy="14.29" rx="1.3" ry="1.75" transform="rotate(90 28.27 14.29)"/>
<ellipse cx="29" cy="28.48" rx="1.3" ry="1.75" transform="rotate(0 29 28.48)"/>
<ellipse cx="25.89" cy="40.6" rx="1.3" ry="1.75" transform="rotate(20 25.89 40.6)"/>
<ellipse cx="24.65" cy="51.27" rx="1.3" ry="1.75" transform="rotate(-40 24.65 51.27)"/>
<ellipse cx="29.31" cy="54.37" rx="1.3" ry="1.75" transform="rotate(40 29.31 54.37)"/>
<ellipse cx="19.16" cy="56.44" rx="1.3" ry="1.75" transform="rotate(-20 19.16 56.44)"/>
<ellipse cx="19.16" cy="59.03" rx="1.3" ry="1.75" transform="rotate(-20 19.16 59.03)"/>
<ellipse cx="23.3" cy="64.21" rx="1.3" ry="1.75" transform="rotate(20 23.3 64.21)"/>
<ellipse cx="33.66" cy="3.62" rx="1.3" ry="1.75" transform="rotate(20 33.66 3.62)"/>
<ellipse cx="35.42" cy="13.98" rx="1.3" ry="1.75" transform="rotate(0 35.42 13.98)"/>
<ellipse cx="33.45" cy="21.75" rx="1.3" ry="1.75" transform="rotate(0 33.45 21.75)"/>
<ellipse cx="31.59" cy="35.42" rx="1.3" ry="1.75" transform="rotate(0 31.59 35.42)"/>
<ellipse cx="35.52" cy="41.22" rx="1.3" ry="1.75" transform="rotate(0 35.52 41.22)"/>
<ellipse cx="30.86" cy="45.78" rx="1.3" ry="1.75" transform="rotate(60 30.86 45.78)"/>
<ellipse cx="33.87" cy="47.64" rx="1.3" ry="1.75" transform="rotate(60 33.87 47.64)"/>
<ellipse cx="32.62" cy="57.48" rx="1.3" ry="1.75" transform="rotate(60 32.62 57.48)"/>
<ellipse cx="37.08" cy="56.96" rx="1.3" ry="1.75" transform="rotate(0 37.08 56.96)"/>
<ellipse cx="31.07" cy="65.25" rx="1.3" ry="1.75" transform="rotate(20 31.07 65.25)"/>
<ellipse cx="41.22" cy="14.5" rx="1.3" ry="1.75" transform="rotate(60 41.22 14.5)"/>
<ellipse cx="45.88" cy="24.34" rx="1.3" ry="1.75" transform="rotate(-20 45.88 24.34)"/>
<ellipse cx="40.18" cy="29" rx="1.3" ry="1.75" transform="rotate(0 40.18 29)"/>
<ellipse cx="37.8" cy="33.45" rx="1.3" ry="1.75" transform="rotate(20 37.8 33.45)"/>
<ellipse cx="42.46" cy="32.93" rx="1.3" ry="1.75" transform="rotate(40 42.46 32.93)"/>
<ellipse cx="42.67" cy="38.11" rx="1.3" ry="1.75" transform="rotate(60 42.67 38.11)"/>
<ellipse cx="46.4" cy="40.6" rx="1.3" ry="1.75" transform="rotate(20 46.4 40.6)"/>
<ellipse cx="41.22" cy="55.2" rx="1.3" ry="1.75" transform="rotate(-40 41.22 55.2)"/>
<ellipse cx="46.09" cy="59.03" rx="1.3" ry="1.75" transform="rotate(-20 46.09 59.03)"/>
<ellipse cx="42.46" cy="62.97" rx="1.3" ry="1.75" transform="rotate(60 42.46 62.97)"/>
<ellipse cx="51.78" cy="2.07" rx="1.3" ry="1.75" transform="rotate(-20 51.78 2.07)"/>
<ellipse cx="52.09" cy="10.15" rx="1.3" ry="1.75" transform="rotate(-40 52.09 10.15)"/>
<ellipse cx="56.44" cy="13.46" rx="1.3" ry="1.75" transform="rotate(-20 56.44 13.46)"/>
<ellipse cx="57.48" cy="19.16" rx="1.3" ry="1.75" transform="rotate(40 57.48 19.16)"/>
<ellipse cx="51.99" cy="33.87" rx="1.3" ry="1.75" transform="rotate(90 51.99 33.87)"/>
<ellipse cx="57.79" cy="27.76" rx="1.3" ry="1.75" transform="rotate(20 57.79 27.76)"/>
<ellipse cx="57.79" cy="40.39" rx="1.3" ry="1.75" transform="rotate(40 57.79 40.39)"/>
<ellipse cx="54.16" cy="48.47" rx="1.3" ry="1.75" transform="rotate(-20 54.16 48.47)"/>
<ellipse cx="58.31" cy="51.78" rx="1.3" ry="1.75" transform="rotate(20 58.31 51.78)"/>
<ellipse cx="52.09" cy="54.68" rx="1.3" ry="1.75" transform="rotate(0 52.09 54.68)"/>
<ellipse cx="51.27" cy="58" rx="1.3" ry="1.75" transform="rotate(90 51.27 58)"/>
<ellipse cx="59.03" cy="55.41" rx="1.3" ry="1.75" transform="rotate(20 59.03 55.41)"/>
<ellipse cx="52.3" cy="64.73" rx="1.3" ry="1.75" transform="rotate(20 52.3 64.73)"/>
<ellipse cx="62.35" cy="4.35" rx="1.3" ry="1.75" transform="rotate(-20 62.35 4.35)"/>
<ellipse cx="62.35" cy="10.56" rx="1.3" ry="1.75" transform="rotate(40 62.35 10.56)"/>
<ellipse cx="65.76" cy="18.64" rx="1.3" ry="1.75" transform="rotate(-20 65.76 18.64)"/>
<ellipse cx="62.97" cy="27.44" rx="1.3" ry="1.75" transform="rotate(-20 62.97 27.44)"/>
<ellipse cx="65.76" cy="34.18" rx="1.3" ry="1.75" transform="rotate(-40 65.76 34.18)"/>
<ellipse cx="64.52" cy="41.43" rx="1.3" ry="1.75" transform="rotate(-20 64.52 41.43)"/>
<ellipse cx="62.14" cy="42.98" rx="1.3" ry="1.75" transform="rotate(0 62.14 42.98)"/>
<ellipse cx="64.52" cy="51.78" rx="1.3" ry="1.75" transform="rotate(40 64.52 51.78)"/>
<ellipse cx="61.1" cy="62.14" rx="1.3" ry="1.75" transform="rotate(-40 61.1 62.14)"/>
</g>
</svg>
<svg x="533.8" y="733" width="67.2" height="66.8" viewBox="0 0 66.8 66.8" preserveAspectRatio="none" overflow="hidden">
<rect width="66.8" height="66.8" fill="#0f0e1d"/>
<g fill="#6a1228" opacity="0.5" filter="url(#b1)">
<ellipse cx="9.09" cy="3.46" rx="0.6" ry="1.6" transform="rotate(30 8.29 1.86)"/>
<ellipse cx="5.46" cy="10.4" rx="0.6" ry="1.6" transform="rotate(30 4.66 8.8)"/>
<ellipse cx="3.39" cy="19.72" rx="0.6" ry="1.6" transform="rotate(30 2.59 18.12)"/>
<ellipse cx="1.52" cy="30.39" rx="0.6" ry="1.6" transform="rotate(30 0.72 28.79)"/>
<ellipse cx="1.63" cy="57.01" rx="0.6" ry="1.6" transform="rotate(30 0.83 55.41)"/>
<ellipse cx="5.98" cy="66.85" rx="0.6" ry="1.6" transform="rotate(30 5.18 65.25)"/>
<ellipse cx="15.3" cy="14.03" rx="0.6" ry="1.6" transform="rotate(30 14.5 12.43)"/>
<ellipse cx="20.48" cy="27.49" rx="0.6" ry="1.6" transform="rotate(30 19.68 25.89)"/>
<ellipse cx="20.48" cy="34.02" rx="0.6" ry="1.6" transform="rotate(30 19.68 32.42)"/>
<ellipse cx="14.26" cy="51.31" rx="0.6" ry="1.6" transform="rotate(30 13.46 49.71)"/>
<ellipse cx="13.75" cy="64.57" rx="0.6" ry="1.6" transform="rotate(30 12.95 62.97)"/>
<ellipse cx="24.62" cy="5.54" rx="0.6" ry="1.6" transform="rotate(30 23.82 3.94)"/>
<ellipse cx="28.24" cy="9.89" rx="0.6" ry="1.6" transform="rotate(30 27.44 8.29)"/>
<ellipse cx="29.8" cy="30.08" rx="0.6" ry="1.6" transform="rotate(30 29 28.48)"/>
<ellipse cx="25.45" cy="52.87" rx="0.6" ry="1.6" transform="rotate(30 24.65 51.27)"/>
<ellipse cx="19.96" cy="58.04" rx="0.6" ry="1.6" transform="rotate(30 19.16 56.44)"/>
<ellipse cx="24.1" cy="65.81" rx="0.6" ry="1.6" transform="rotate(30 23.3 64.21)"/>
<ellipse cx="36.22" cy="15.58" rx="0.6" ry="1.6" transform="rotate(30 35.42 13.98)"/>
<ellipse cx="32.39" cy="37.02" rx="0.6" ry="1.6" transform="rotate(30 31.59 35.42)"/>
<ellipse cx="31.66" cy="47.38" rx="0.6" ry="1.6" transform="rotate(30 30.86 45.78)"/>
<ellipse cx="33.42" cy="59.08" rx="0.6" ry="1.6" transform="rotate(30 32.62 57.48)"/>
<ellipse cx="31.87" cy="66.85" rx="0.6" ry="1.6" transform="rotate(30 31.07 65.25)"/>
<ellipse cx="46.68" cy="25.94" rx="0.6" ry="1.6" transform="rotate(30 45.88 24.34)"/>
<ellipse cx="38.6" cy="35.05" rx="0.6" ry="1.6" transform="rotate(30 37.8 33.45)"/>
<ellipse cx="43.47" cy="39.71" rx="0.6" ry="1.6" transform="rotate(30 42.67 38.11)"/>
<ellipse cx="42.02" cy="56.8" rx="0.6" ry="1.6" transform="rotate(30 41.22 55.2)"/>
<ellipse cx="43.26" cy="64.57" rx="0.6" ry="1.6" transform="rotate(30 42.46 62.97)"/>
<ellipse cx="52.89" cy="11.75" rx="0.6" ry="1.6" transform="rotate(30 52.09 10.15)"/>
<ellipse cx="58.28" cy="20.76" rx="0.6" ry="1.6" transform="rotate(30 57.48 19.16)"/>
<ellipse cx="58.59" cy="29.36" rx="0.6" ry="1.6" transform="rotate(30 57.79 27.76)"/>
<ellipse cx="54.96" cy="50.07" rx="0.6" ry="1.6" transform="rotate(30 54.16 48.47)"/>
<ellipse cx="52.89" cy="56.28" rx="0.6" ry="1.6" transform="rotate(30 52.09 54.68)"/>
<ellipse cx="59.83" cy="57.01" rx="0.6" ry="1.6" transform="rotate(30 59.03 55.41)"/>
<ellipse cx="63.15" cy="5.95" rx="0.6" ry="1.6" transform="rotate(30 62.35 4.35)"/>
<ellipse cx="66.56" cy="20.24" rx="0.6" ry="1.6" transform="rotate(30 65.76 18.64)"/>
<ellipse cx="66.56" cy="35.78" rx="0.6" ry="1.6" transform="rotate(30 65.76 34.18)"/>
<ellipse cx="62.94" cy="44.58" rx="0.6" ry="1.6" transform="rotate(30 62.14 42.98)"/>
<ellipse cx="61.9" cy="63.74" rx="0.6" ry="1.6" transform="rotate(30 61.1 62.14)"/>
</g>
<g fill="#3a4cb0" opacity="1" filter="url(#b1)">
<ellipse cx="8.29" cy="1.86" rx="1.3" ry="1.75" transform="rotate(0 8.29 1.86)"/>
<ellipse cx="5.7" cy="4.35" rx="1.3" ry="1.75" transform="rotate(-20 5.7 4.35)"/>
<ellipse cx="4.66" cy="8.8" rx="1.3" ry="1.75" transform="rotate(0 4.66 8.8)"/>
<ellipse cx="5.18" cy="14.19" rx="1.3" ry="1.75" transform="rotate(0 5.18 14.19)"/>
<ellipse cx="2.59" cy="18.12" rx="1.3" ry="1.75" transform="rotate(90 2.59 18.12)"/>
<ellipse cx="4.45" cy="26.41" rx="1.3" ry="1.75" transform="rotate(40 4.45 26.41)"/>
<ellipse cx="0.72" cy="28.79" rx="1.3" ry="1.75" transform="rotate(-20 0.72 28.79)"/>
<ellipse cx="3.11" cy="41.22" rx="1.3" ry="1.75" transform="rotate(-40 3.11 41.22)"/>
<ellipse cx="0.83" cy="55.41" rx="1.3" ry="1.75" transform="rotate(60 0.83 55.41)"/>
<ellipse cx="7.77" cy="55.2" rx="1.3" ry="1.75" transform="rotate(90 7.77 55.2)"/>
<ellipse cx="5.18" cy="65.25" rx="1.3" ry="1.75" transform="rotate(20 5.18 65.25)"/>
<ellipse cx="13.98" cy="5.7" rx="1.3" ry="1.75" transform="rotate(20 13.98 5.7)"/>
<ellipse cx="14.5" cy="12.43" rx="1.3" ry="1.75" transform="rotate(20 14.5 12.43)"/>
<ellipse cx="12.12" cy="22.78" rx="1.3" ry="1.75" transform="rotate(60 12.12 22.78)"/>
<ellipse cx="19.68" cy="25.89" rx="1.3" ry="1.75" transform="rotate(40 19.68 25.89)"/>
<ellipse cx="16.88" cy="31.07" rx="1.3" ry="1.75" transform="rotate(-20 16.88 31.07)"/>
<ellipse cx="19.68" cy="32.42" rx="1.3" ry="1.75" transform="rotate(20 19.68 32.42)"/>
<ellipse cx="13.67" cy="35.42" rx="1.3" ry="1.75" transform="rotate(0 13.67 35.42)"/>
<ellipse cx="13.46" cy="49.71" rx="1.3" ry="1.75" transform="rotate(0 13.46 49.71)"/>
<ellipse cx="10.36" cy="51.78" rx="1.3" ry="1.75" transform="rotate(90 10.36 51.78)"/>
<ellipse cx="12.95" cy="62.97" rx="1.3" ry="1.75" transform="rotate(-40 12.95 62.97)"/>
<ellipse cx="20.92" cy="3.62" rx="1.3" ry="1.75" transform="rotate(20 20.92 3.62)"/>
<ellipse cx="23.82" cy="3.94" rx="1.3" ry="1.75" transform="rotate(0 23.82 3.94)"/>
<ellipse cx="23.51" cy="9.84" rx="1.3" ry="1.75" transform="rotate(40 23.51 9.84)"/>
<ellipse cx="27.44" cy="8.29" rx="1.3" ry="1.75" transform="rotate(0 27.44 8.29)"/>
<ellipse cx="28.27" cy="14.29" rx="1.3" ry="1.75" transform="rotate(-20 28.27 14.29)"/>
<ellipse cx="29" cy="28.48" rx="1.3" ry="1.75" transform="rotate(60 29 28.48)"/>
<ellipse cx="25.89" cy="40.6" rx="1.3" ry="1.75" transform="rotate(40 25.89 40.6)"/>
<ellipse cx="24.65" cy="51.27" rx="1.3" ry="1.75" transform="rotate(40 24.65 51.27)"/>
<ellipse cx="29.31" cy="54.37" rx="1.3" ry="1.75" transform="rotate(60 29.31 54.37)"/>
<ellipse cx="19.16" cy="56.44" rx="1.3" ry="1.75" transform="rotate(90 19.16 56.44)"/>
<ellipse cx="19.16" cy="59.03" rx="1.3" ry="1.75" transform="rotate(90 19.16 59.03)"/>
<ellipse cx="23.3" cy="64.21" rx="1.3" ry="1.75" transform="rotate(90 23.3 64.21)"/>
<ellipse cx="33.66" cy="3.62" rx="1.3" ry="1.75" transform="rotate(-20 33.66 3.62)"/>
<ellipse cx="35.42" cy="13.98" rx="1.3" ry="1.75" transform="rotate(-40 35.42 13.98)"/>
<ellipse cx="33.45" cy="21.75" rx="1.3" ry="1.75" transform="rotate(0 33.45 21.75)"/>
<ellipse cx="31.59" cy="35.42" rx="1.3" ry="1.75" transform="rotate(-20 31.59 35.42)"/>
<ellipse cx="35.52" cy="41.22" rx="1.3" ry="1.75" transform="rotate(20 35.52 41.22)"/>
<ellipse cx="30.86" cy="45.78" rx="1.3" ry="1.75" transform="rotate(20 30.86 45.78)"/>
<ellipse cx="33.87" cy="47.64" rx="1.3" ry="1.75" transform="rotate(60 33.87 47.64)"/>
<ellipse cx="32.62" cy="57.48" rx="1.3" ry="1.75" transform="rotate(20 32.62 57.48)"/>
<ellipse cx="37.08" cy="56.96" rx="1.3" ry="1.75" transform="rotate(20 37.08 56.96)"/>
<ellipse cx="31.07" cy="65.25" rx="1.3" ry="1.75" transform="rotate(0 31.07 65.25)"/>
<ellipse cx="41.22" cy="14.5" rx="1.3" ry="1.75" transform="rotate(90 41.22 14.5)"/>
<ellipse cx="45.88" cy="24.34" rx="1.3" ry="1.75" transform="rotate(90 45.88 24.34)"/>
<ellipse cx="40.18" cy="29" rx="1.3" ry="1.75" transform="rotate(90 40.18 29)"/>
<ellipse cx="37.8" cy="33.45" rx="1.3" ry="1.75" transform="rotate(-40 37.8 33.45)"/>
<ellipse cx="42.46" cy="32.93" rx="1.3" ry="1.75" transform="rotate(-20 42.46 32.93)"/>
<ellipse cx="42.67" cy="38.11" rx="1.3" ry="1.75" transform="rotate(-40 42.67 38.11)"/>
<ellipse cx="46.4" cy="40.6" rx="1.3" ry="1.75" transform="rotate(20 46.4 40.6)"/>
<ellipse cx="41.22" cy="55.2" rx="1.3" ry="1.75" transform="rotate(60 41.22 55.2)"/>
<ellipse cx="46.09" cy="59.03" rx="1.3" ry="1.75" transform="rotate(90 46.09 59.03)"/>
<ellipse cx="42.46" cy="62.97" rx="1.3" ry="1.75" transform="rotate(90 42.46 62.97)"/>
<ellipse cx="51.78" cy="2.07" rx="1.3" ry="1.75" transform="rotate(20 51.78 2.07)"/>
<ellipse cx="52.09" cy="10.15" rx="1.3" ry="1.75" transform="rotate(40 52.09 10.15)"/>
<ellipse cx="56.44" cy="13.46" rx="1.3" ry="1.75" transform="rotate(20 56.44 13.46)"/>
<ellipse cx="57.48" cy="19.16" rx="1.3" ry="1.75" transform="rotate(-40 57.48 19.16)"/>
<ellipse cx="51.99" cy="33.87" rx="1.3" ry="1.75" transform="rotate(-40 51.99 33.87)"/>
<ellipse cx="57.79" cy="27.76" rx="1.3" ry="1.75" transform="rotate(20 57.79 27.76)"/>
<ellipse cx="57.79" cy="40.39" rx="1.3" ry="1.75" transform="rotate(90 57.79 40.39)"/>
<ellipse cx="54.16" cy="48.47" rx="1.3" ry="1.75" transform="rotate(40 54.16 48.47)"/>
<ellipse cx="58.31" cy="51.78" rx="1.3" ry="1.75" transform="rotate(90 58.31 51.78)"/>
<ellipse cx="52.09" cy="54.68" rx="1.3" ry="1.75" transform="rotate(20 52.09 54.68)"/>
<ellipse cx="51.27" cy="58" rx="1.3" ry="1.75" transform="rotate(20 51.27 58)"/>
<ellipse cx="59.03" cy="55.41" rx="1.3" ry="1.75" transform="rotate(-20 59.03 55.41)"/>
<ellipse cx="52.3" cy="64.73" rx="1.3" ry="1.75" transform="rotate(90 52.3 64.73)"/>
<ellipse cx="62.35" cy="4.35" rx="1.3" ry="1.75" transform="rotate(-40 62.35 4.35)"/>
<ellipse cx="62.35" cy="10.56" rx="1.3" ry="1.75" transform="rotate(-20 62.35 10.56)"/>
<ellipse cx="65.76" cy="18.64" rx="1.3" ry="1.75" transform="rotate(-20 65.76 18.64)"/>
<ellipse cx="62.97" cy="27.44" rx="1.3" ry="1.75" transform="rotate(-20 62.97 27.44)"/>
<ellipse cx="65.76" cy="34.18" rx="1.3" ry="1.75" transform="rotate(40 65.76 34.18)"/>
<ellipse cx="64.52" cy="41.43" rx="1.3" ry="1.75" transform="rotate(60 64.52 41.43)"/>
<ellipse cx="62.14" cy="42.98" rx="1.3" ry="1.75" transform="rotate(-40 62.14 42.98)"/>
<ellipse cx="64.52" cy="51.78" rx="1.3" ry="1.75" transform="rotate(90 64.52 51.78)"/>
<ellipse cx="61.1" cy="62.14" rx="1.3" ry="1.75" transform="rotate(60 61.1 62.14)"/>
</g>
</svg>
<svg x="389.55" y="805.2" width="67.3" height="67.45" viewBox="0 0 66.8 66.8" preserveAspectRatio="none" overflow="hidden">
<rect width="66.8" height="66.8" fill="#170605"/>
<rect width="66.8" height="66.8" fill="url(#gv)"/>
<g filter="url(#b2)" fill="#6a0c0c" opacity="0.9">
<ellipse cx="17.3" cy="6.73" rx="3.37" ry="4.18" transform="rotate(-30 17.3 6.73)"/>
<ellipse cx="27.24" cy="9.32" rx="3.28" ry="4.51" transform="rotate(30 27.24 9.32)"/>
<ellipse cx="33.45" cy="3.94" rx="2.91" ry="4.22" transform="rotate(30 33.45 3.94)"/>
<ellipse cx="43.29" cy="4.35" rx="3.34" ry="4.2" transform="rotate(-10 43.29 4.35)"/>
<ellipse cx="63.9" cy="8.6" rx="3.28" ry="4.75" transform="rotate(50 63.9 8.6)"/>
<ellipse cx="14.29" cy="15.53" rx="3.22" ry="4.69" transform="rotate(10 14.29 15.53)"/>
<ellipse cx="20.71" cy="20.2" rx="3.41" ry="4.98" transform="rotate(-30 20.71 20.2)"/>
<ellipse cx="28.17" cy="23.3" rx="3.21" ry="3.87" transform="rotate(30 28.17 23.3)"/>
<ellipse cx="41.22" cy="19.47" rx="2.95" ry="4.21" transform="rotate(70 41.22 19.47)"/>
<ellipse cx="48.47" cy="21.44" rx="2.93" ry="4.21" transform="rotate(30 48.47 21.44)"/>
<ellipse cx="56.44" cy="21.44" rx="3.59" ry="4.82" transform="rotate(70 56.44 21.44)"/>
<ellipse cx="62.97" cy="19.88" rx="3.64" ry="4.79" transform="rotate(50 62.97 19.88)"/>
<ellipse cx="45.05" cy="27.24" rx="3.64" ry="4.8" transform="rotate(70 45.05 27.24)"/>
<ellipse cx="62.86" cy="29.21" rx="3.36" ry="5.01" transform="rotate(70 62.86 29.21)"/>
<ellipse cx="28.27" cy="32.11" rx="3.6" ry="4.43" transform="rotate(-30 28.27 32.11)"/>
<ellipse cx="35.73" cy="30.86" rx="3.3" ry="4.21" transform="rotate(-30 35.73 30.86)"/>
<ellipse cx="52.82" cy="35.73" rx="3.25" ry="4.51" transform="rotate(50 52.82 35.73)"/>
<ellipse cx="14.5" cy="38.32" rx="3.24" ry="4.69" transform="rotate(-10 14.5 38.32)"/>
<ellipse cx="25.06" cy="39.67" rx="3.18" ry="4.38" transform="rotate(30 25.06 39.67)"/>
<ellipse cx="0.21" cy="39.15" rx="3.09" ry="4.01" transform="rotate(30 0.21 39.15)"/>
<ellipse cx="61.1" cy="42.98" rx="3.59" ry="5.37" transform="rotate(-50 61.1 42.98)"/>
<ellipse cx="50.95" cy="45.05" rx="3.46" ry="4.87" transform="rotate(50 50.95 45.05)"/>
<ellipse cx="5.39" cy="49.19" rx="3.67" ry="5.4" transform="rotate(-10 5.39 49.19)"/>
<ellipse cx="44.22" cy="51.78" rx="2.98" ry="4.17" transform="rotate(30 44.22 51.78)"/>
<ellipse cx="59.86" cy="50.23" rx="3.57" ry="4.89" transform="rotate(50 59.86 50.23)"/>
<ellipse cx="55.72" cy="55.61" rx="3" ry="4.03" transform="rotate(-10 55.72 55.61)"/>
<ellipse cx="63.38" cy="57.27" rx="3.69" ry="4.53" transform="rotate(50 63.38 57.27)"/>
<ellipse cx="23.61" cy="57.69" rx="2.95" ry="4.34" transform="rotate(70 23.61 57.69)"/>
</g>
<g filter="url(#b3)" fill="none" stroke="#b4141a" stroke-width="1.1" stroke-linecap="round" opacity="0.8">
<ellipse cx="17.3" cy="6.73" rx="2.16" ry="2.59" stroke-dasharray="12.21 2.74" stroke-dashoffset="6.39" transform="rotate(-30 17.3 6.73)"/>
<ellipse cx="27.24" cy="9.32" rx="2.1" ry="2.79" stroke-dasharray="11.58 3.87" stroke-dashoffset="1.84" transform="rotate(30 27.24 9.32)"/>
<ellipse cx="33.45" cy="3.94" rx="1.86" ry="2.62" stroke-dasharray="10.17 4.01" stroke-dashoffset="10.8" transform="rotate(30 33.45 3.94)"/>
<ellipse cx="43.29" cy="4.35" rx="2.14" ry="2.6" stroke-dasharray="11.29 3.65" stroke-dashoffset="8.76" transform="rotate(-10 43.29 4.35)"/>
<ellipse cx="63.9" cy="8.6" rx="2.1" ry="2.95" stroke-dasharray="11.59 4.37" stroke-dashoffset="14.71" transform="rotate(50 63.9 8.6)"/>
<ellipse cx="14.29" cy="15.53" rx="2.06" ry="2.91" stroke-dasharray="12.15 3.58" stroke-dashoffset="3.71" transform="rotate(10 14.29 15.53)"/>
<ellipse cx="20.71" cy="20.2" rx="2.18" ry="3.09" stroke-dasharray="13.57 3.1" stroke-dashoffset="0.12" transform="rotate(-30 20.71 20.2)"/>
<ellipse cx="28.17" cy="23.3" rx="2.06" ry="2.4" stroke-dasharray="11.23 2.78" stroke-dashoffset="7.51" transform="rotate(30 28.17 23.3)"/>
<ellipse cx="41.22" cy="19.47" rx="1.89" ry="2.61" stroke-dasharray="9.37 4.86" stroke-dashoffset="13.82" transform="rotate(70 41.22 19.47)"/>
<ellipse cx="48.47" cy="21.44" rx="1.88" ry="2.61" stroke-dasharray="10.93 3.26" stroke-dashoffset="3.74" transform="rotate(30 48.47 21.44)"/>
<ellipse cx="56.44" cy="21.44" rx="2.3" ry="2.99" stroke-dasharray="11.72 4.96" stroke-dashoffset="16.35" transform="rotate(70 56.44 21.44)"/>
<ellipse cx="62.97" cy="19.88" rx="2.33" ry="2.97" stroke-dasharray="12.72 3.97" stroke-dashoffset="6.01" transform="rotate(50 62.97 19.88)"/>
<ellipse cx="45.05" cy="27.24" rx="2.33" ry="2.97" stroke-dasharray="13.31 3.4" stroke-dashoffset="14.4" transform="rotate(70 45.05 27.24)"/>
<ellipse cx="62.86" cy="29.21" rx="2.15" ry="3.1" stroke-dasharray="12.58 4.06" stroke-dashoffset="14.48" transform="rotate(70 62.86 29.21)"/>
<ellipse cx="28.27" cy="32.11" rx="2.31" ry="2.75" stroke-dasharray="12 3.91" stroke-dashoffset="13.78" transform="rotate(-30 28.27 32.11)"/>
<ellipse cx="35.73" cy="30.86" rx="2.11" ry="2.61" stroke-dasharray="10.47 4.4" stroke-dashoffset="1.53" transform="rotate(-30 35.73 30.86)"/>
<ellipse cx="52.82" cy="35.73" rx="2.08" ry="2.8" stroke-dasharray="10.08 5.32" stroke-dashoffset="12.5" transform="rotate(50 52.82 35.73)"/>
<ellipse cx="14.5" cy="38.32" rx="2.07" ry="2.91" stroke-dasharray="12.2 3.56" stroke-dashoffset="10" transform="rotate(-10 14.5 38.32)"/>
<ellipse cx="25.06" cy="39.67" rx="2.04" ry="2.71" stroke-dasharray="10.47 4.52" stroke-dashoffset="14.04" transform="rotate(30 25.06 39.67)"/>
<ellipse cx="0.21" cy="39.15" rx="1.97" ry="2.49" stroke-dasharray="10.49 3.58" stroke-dashoffset="3.63" transform="rotate(30 0.21 39.15)"/>
<ellipse cx="61.1" cy="42.98" rx="2.29" ry="3.33" stroke-dasharray="13.69 4.12" stroke-dashoffset="6.04" transform="rotate(-50 61.1 42.98)"/>
<ellipse cx="50.95" cy="45.05" rx="2.21" ry="3.02" stroke-dasharray="11.34 5.19" stroke-dashoffset="16.33" transform="rotate(50 50.95 45.05)"/>
<ellipse cx="5.39" cy="49.19" rx="2.35" ry="3.35" stroke-dasharray="13.83 4.21" stroke-dashoffset="6.79" transform="rotate(-10 5.39 49.19)"/>
<ellipse cx="44.22" cy="51.78" rx="1.91" ry="2.58" stroke-dasharray="10.22 3.98" stroke-dashoffset="1.89" transform="rotate(30 44.22 51.78)"/>
<ellipse cx="59.86" cy="50.23" rx="2.28" ry="3.03" stroke-dasharray="11.95 4.83" stroke-dashoffset="5.58" transform="rotate(50 59.86 50.23)"/>
<ellipse cx="55.72" cy="55.61" rx="1.92" ry="2.5" stroke-dasharray="10.6 3.35" stroke-dashoffset="12.79" transform="rotate(-10 55.72 55.61)"/>
<ellipse cx="63.38" cy="57.27" rx="2.36" ry="2.81" stroke-dasharray="11.66 4.61" stroke-dashoffset="4.54" transform="rotate(50 63.38 57.27)"/>
<ellipse cx="23.61" cy="57.69" rx="1.89" ry="2.69" stroke-dasharray="10.68 3.82" stroke-dashoffset="8.55" transform="rotate(70 23.61 57.69)"/>
<path d="M32.62 49.19 Q24.12 53.69 20.2 65.76" stroke-width="1.3" opacity="0.75"/>
<path d="M23.82 2.07 L38.32 10.36" stroke-width="2.4" opacity="0.3"/>
</g>
</svg>
<svg x="461.95" y="805.2" width="67" height="67.45" viewBox="0 0 66.8 66.8" preserveAspectRatio="none" overflow="hidden">
<rect width="66.8" height="66.8" fill="#0d0f1e"/>
<g fill="#3144a4" opacity="1" filter="url(#b1)">
<ellipse cx="17.3" cy="6.73" rx="1.4" ry="1.85" transform="rotate(60 17.3 6.73)"/>
<ellipse cx="27.24" cy="9.32" rx="1.4" ry="1.85" transform="rotate(60 27.24 9.32)"/>
<ellipse cx="33.45" cy="3.94" rx="1.4" ry="1.85" transform="rotate(90 33.45 3.94)"/>
<ellipse cx="43.29" cy="4.35" rx="1.4" ry="1.85" transform="rotate(90 43.29 4.35)"/>
<ellipse cx="63.9" cy="8.6" rx="1.4" ry="1.85" transform="rotate(20 63.9 8.6)"/>
<ellipse cx="14.29" cy="15.53" rx="1.4" ry="1.85" transform="rotate(-40 14.29 15.53)"/>
<ellipse cx="20.71" cy="20.2" rx="1.4" ry="1.85" transform="rotate(40 20.71 20.2)"/>
<ellipse cx="28.17" cy="23.3" rx="1.4" ry="1.85" transform="rotate(90 28.17 23.3)"/>
<ellipse cx="41.22" cy="19.47" rx="1.4" ry="1.85" transform="rotate(-40 41.22 19.47)"/>
<ellipse cx="48.47" cy="21.44" rx="1.4" ry="1.85" transform="rotate(-40 48.47 21.44)"/>
<ellipse cx="56.44" cy="21.44" rx="1.4" ry="1.85" transform="rotate(90 56.44 21.44)"/>
<ellipse cx="62.97" cy="19.88" rx="1.4" ry="1.85" transform="rotate(-20 62.97 19.88)"/>
<ellipse cx="45.05" cy="27.24" rx="1.4" ry="1.85" transform="rotate(-20 45.05 27.24)"/>
<ellipse cx="62.86" cy="29.21" rx="1.4" ry="1.85" transform="rotate(40 62.86 29.21)"/>
<ellipse cx="28.27" cy="32.11" rx="1.4" ry="1.85" transform="rotate(-40 28.27 32.11)"/>
<ellipse cx="35.73" cy="30.86" rx="1.4" ry="1.85" transform="rotate(60 35.73 30.86)"/>
<ellipse cx="52.82" cy="35.73" rx="1.4" ry="1.85" transform="rotate(60 52.82 35.73)"/>
<ellipse cx="14.5" cy="38.32" rx="1.4" ry="1.85" transform="rotate(0 14.5 38.32)"/>
<ellipse cx="25.06" cy="39.67" rx="1.4" ry="1.85" transform="rotate(-20 25.06 39.67)"/>
<ellipse cx="0.21" cy="39.15" rx="1.4" ry="1.85" transform="rotate(60 0.21 39.15)"/>
<ellipse cx="61.1" cy="42.98" rx="1.4" ry="1.85" transform="rotate(0 61.1 42.98)"/>
<ellipse cx="50.95" cy="45.05" rx="1.4" ry="1.85" transform="rotate(40 50.95 45.05)"/>
<ellipse cx="5.39" cy="49.19" rx="1.4" ry="1.85" transform="rotate(60 5.39 49.19)"/>
<ellipse cx="44.22" cy="51.78" rx="1.4" ry="1.85" transform="rotate(20 44.22 51.78)"/>
<ellipse cx="59.86" cy="50.23" rx="1.4" ry="1.85" transform="rotate(60 59.86 50.23)"/>
<ellipse cx="55.72" cy="55.61" rx="1.4" ry="1.85" transform="rotate(90 55.72 55.61)"/>
<ellipse cx="63.38" cy="57.27" rx="1.4" ry="1.85" transform="rotate(-40 63.38 57.27)"/>
<ellipse cx="23.61" cy="57.69" rx="1.4" ry="1.85" transform="rotate(-40 23.61 57.69)"/>
</g>
</svg>
<svg x="533.8" y="805.2" width="67.2" height="67.45" viewBox="0 0 66.8 66.8" preserveAspectRatio="none" overflow="hidden">
<rect width="66.8" height="66.8" fill="#1c0d26"/>
<g filter="url(#b2)" fill="#7a0e2c" opacity="0.9">
<ellipse cx="17.3" cy="6.73" rx="3.37" ry="4.18" transform="rotate(-30 17.3 6.73)"/>
<ellipse cx="27.24" cy="9.32" rx="3.28" ry="4.51" transform="rotate(30 27.24 9.32)"/>
<ellipse cx="33.45" cy="3.94" rx="2.91" ry="4.22" transform="rotate(30 33.45 3.94)"/>
<ellipse cx="43.29" cy="4.35" rx="3.34" ry="4.2" transform="rotate(-10 43.29 4.35)"/>
<ellipse cx="63.9" cy="8.6" rx="3.28" ry="4.75" transform="rotate(50 63.9 8.6)"/>
<ellipse cx="14.29" cy="15.53" rx="3.22" ry="4.69" transform="rotate(10 14.29 15.53)"/>
<ellipse cx="20.71" cy="20.2" rx="3.41" ry="4.98" transform="rotate(-30 20.71 20.2)"/>
<ellipse cx="28.17" cy="23.3" rx="3.21" ry="3.87" transform="rotate(30 28.17 23.3)"/>
<ellipse cx="41.22" cy="19.47" rx="2.95" ry="4.21" transform="rotate(70 41.22 19.47)"/>
<ellipse cx="48.47" cy="21.44" rx="2.93" ry="4.21" transform="rotate(30 48.47 21.44)"/>
<ellipse cx="56.44" cy="21.44" rx="3.59" ry="4.82" transform="rotate(70 56.44 21.44)"/>
<ellipse cx="62.97" cy="19.88" rx="3.64" ry="4.79" transform="rotate(50 62.97 19.88)"/>
<ellipse cx="45.05" cy="27.24" rx="3.64" ry="4.8" transform="rotate(70 45.05 27.24)"/>
<ellipse cx="62.86" cy="29.21" rx="3.36" ry="5.01" transform="rotate(70 62.86 29.21)"/>
<ellipse cx="28.27" cy="32.11" rx="3.6" ry="4.43" transform="rotate(-30 28.27 32.11)"/>
<ellipse cx="35.73" cy="30.86" rx="3.3" ry="4.21" transform="rotate(-30 35.73 30.86)"/>
<ellipse cx="52.82" cy="35.73" rx="3.25" ry="4.51" transform="rotate(50 52.82 35.73)"/>
<ellipse cx="14.5" cy="38.32" rx="3.24" ry="4.69" transform="rotate(-10 14.5 38.32)"/>
<ellipse cx="25.06" cy="39.67" rx="3.18" ry="4.38" transform="rotate(30 25.06 39.67)"/>
<ellipse cx="0.21" cy="39.15" rx="3.09" ry="4.01" transform="rotate(30 0.21 39.15)"/>
<ellipse cx="61.1" cy="42.98" rx="3.59" ry="5.37" transform="rotate(-50 61.1 42.98)"/>
<ellipse cx="50.95" cy="45.05" rx="3.46" ry="4.87" transform="rotate(50 50.95 45.05)"/>
<ellipse cx="5.39" cy="49.19" rx="3.67" ry="5.4" transform="rotate(-10 5.39 49.19)"/>
<ellipse cx="44.22" cy="51.78" rx="2.98" ry="4.17" transform="rotate(30 44.22 51.78)"/>
<ellipse cx="59.86" cy="50.23" rx="3.57" ry="4.89" transform="rotate(50 59.86 50.23)"/>
<ellipse cx="55.72" cy="55.61" rx="3" ry="4.03" transform="rotate(-10 55.72 55.61)"/>
<ellipse cx="63.38" cy="57.27" rx="3.69" ry="4.53" transform="rotate(50 63.38 57.27)"/>
<ellipse cx="23.61" cy="57.69" rx="2.95" ry="4.34" transform="rotate(70 23.61 57.69)"/>
</g>
<g filter="url(#b3)" fill="none" stroke="#b0142c" stroke-width="1.1" stroke-linecap="round" opacity="0.8">
<ellipse cx="17.3" cy="6.73" rx="2.16" ry="2.59" stroke-dasharray="12.21 2.74" stroke-dashoffset="6.39" transform="rotate(-30 17.3 6.73)"/>
<ellipse cx="27.24" cy="9.32" rx="2.1" ry="2.79" stroke-dasharray="11.58 3.87" stroke-dashoffset="1.84" transform="rotate(30 27.24 9.32)"/>
<ellipse cx="33.45" cy="3.94" rx="1.86" ry="2.62" stroke-dasharray="10.17 4.01" stroke-dashoffset="10.8" transform="rotate(30 33.45 3.94)"/>
<ellipse cx="43.29" cy="4.35" rx="2.14" ry="2.6" stroke-dasharray="11.29 3.65" stroke-dashoffset="8.76" transform="rotate(-10 43.29 4.35)"/>
<ellipse cx="63.9" cy="8.6" rx="2.1" ry="2.95" stroke-dasharray="11.59 4.37" stroke-dashoffset="14.71" transform="rotate(50 63.9 8.6)"/>
<ellipse cx="14.29" cy="15.53" rx="2.06" ry="2.91" stroke-dasharray="12.15 3.58" stroke-dashoffset="3.71" transform="rotate(10 14.29 15.53)"/>
<ellipse cx="20.71" cy="20.2" rx="2.18" ry="3.09" stroke-dasharray="13.57 3.1" stroke-dashoffset="0.12" transform="rotate(-30 20.71 20.2)"/>
<ellipse cx="28.17" cy="23.3" rx="2.06" ry="2.4" stroke-dasharray="11.23 2.78" stroke-dashoffset="7.51" transform="rotate(30 28.17 23.3)"/>
<ellipse cx="41.22" cy="19.47" rx="1.89" ry="2.61" stroke-dasharray="9.37 4.86" stroke-dashoffset="13.82" transform="rotate(70 41.22 19.47)"/>
<ellipse cx="48.47" cy="21.44" rx="1.88" ry="2.61" stroke-dasharray="10.93 3.26" stroke-dashoffset="3.74" transform="rotate(30 48.47 21.44)"/>
<ellipse cx="56.44" cy="21.44" rx="2.3" ry="2.99" stroke-dasharray="11.72 4.96" stroke-dashoffset="16.35" transform="rotate(70 56.44 21.44)"/>
<ellipse cx="62.97" cy="19.88" rx="2.33" ry="2.97" stroke-dasharray="12.72 3.97" stroke-dashoffset="6.01" transform="rotate(50 62.97 19.88)"/>
<ellipse cx="45.05" cy="27.24" rx="2.33" ry="2.97" stroke-dasharray="13.31 3.4" stroke-dashoffset="14.4" transform="rotate(70 45.05 27.24)"/>
<ellipse cx="62.86" cy="29.21" rx="2.15" ry="3.1" stroke-dasharray="12.58 4.06" stroke-dashoffset="14.48" transform="rotate(70 62.86 29.21)"/>
<ellipse cx="28.27" cy="32.11" rx="2.31" ry="2.75" stroke-dasharray="12 3.91" stroke-dashoffset="13.78" transform="rotate(-30 28.27 32.11)"/>
<ellipse cx="35.73" cy="30.86" rx="2.11" ry="2.61" stroke-dasharray="10.47 4.4" stroke-dashoffset="1.53" transform="rotate(-30 35.73 30.86)"/>
<ellipse cx="52.82" cy="35.73" rx="2.08" ry="2.8" stroke-dasharray="10.08 5.32" stroke-dashoffset="12.5" transform="rotate(50 52.82 35.73)"/>
<ellipse cx="14.5" cy="38.32" rx="2.07" ry="2.91" stroke-dasharray="12.2 3.56" stroke-dashoffset="10" transform="rotate(-10 14.5 38.32)"/>
<ellipse cx="25.06" cy="39.67" rx="2.04" ry="2.71" stroke-dasharray="10.47 4.52" stroke-dashoffset="14.04" transform="rotate(30 25.06 39.67)"/>
<ellipse cx="0.21" cy="39.15" rx="1.97" ry="2.49" stroke-dasharray="10.49 3.58" stroke-dashoffset="3.63" transform="rotate(30 0.21 39.15)"/>
<ellipse cx="61.1" cy="42.98" rx="2.29" ry="3.33" stroke-dasharray="13.69 4.12" stroke-dashoffset="6.04" transform="rotate(-50 61.1 42.98)"/>
<ellipse cx="50.95" cy="45.05" rx="2.21" ry="3.02" stroke-dasharray="11.34 5.19" stroke-dashoffset="16.33" transform="rotate(50 50.95 45.05)"/>
<ellipse cx="5.39" cy="49.19" rx="2.35" ry="3.35" stroke-dasharray="13.83 4.21" stroke-dashoffset="6.79" transform="rotate(-10 5.39 49.19)"/>
<ellipse cx="44.22" cy="51.78" rx="1.91" ry="2.58" stroke-dasharray="10.22 3.98" stroke-dashoffset="1.89" transform="rotate(30 44.22 51.78)"/>
<ellipse cx="59.86" cy="50.23" rx="2.28" ry="3.03" stroke-dasharray="11.95 4.83" stroke-dashoffset="5.58" transform="rotate(50 59.86 50.23)"/>
<ellipse cx="55.72" cy="55.61" rx="1.92" ry="2.5" stroke-dasharray="10.6 3.35" stroke-dashoffset="12.79" transform="rotate(-10 55.72 55.61)"/>
<ellipse cx="63.38" cy="57.27" rx="2.36" ry="2.81" stroke-dasharray="11.66 4.61" stroke-dashoffset="4.54" transform="rotate(50 63.38 57.27)"/>
<ellipse cx="23.61" cy="57.69" rx="1.89" ry="2.69" stroke-dasharray="10.68 3.82" stroke-dashoffset="8.55" transform="rotate(70 23.61 57.69)"/>
<path d="M32.62 49.19 Q24.12 53.69 20.2 65.76" stroke-width="1.3" opacity="0.75"/>
<path d="M23.82 2.07 L38.32 10.36" stroke-width="2.4" opacity="0.3"/>
</g>
<g fill="#4256c0" opacity="1" filter="url(#b1)">
<ellipse cx="17.3" cy="6.73" rx="1.4" ry="1.8" transform="rotate(-40 17.3 6.73)"/>
<ellipse cx="27.24" cy="9.32" rx="1.4" ry="1.8" transform="rotate(0 27.24 9.32)"/>
<ellipse cx="33.45" cy="3.94" rx="1.4" ry="1.8" transform="rotate(40 33.45 3.94)"/>
<ellipse cx="43.29" cy="4.35" rx="1.4" ry="1.8" transform="rotate(40 43.29 4.35)"/>
<ellipse cx="63.9" cy="8.6" rx="1.4" ry="1.8" transform="rotate(-20 63.9 8.6)"/>
<ellipse cx="14.29" cy="15.53" rx="1.4" ry="1.8" transform="rotate(20 14.29 15.53)"/>
<ellipse cx="20.71" cy="20.2" rx="1.4" ry="1.8" transform="rotate(0 20.71 20.2)"/>
<ellipse cx="28.17" cy="23.3" rx="1.4" ry="1.8" transform="rotate(-20 28.17 23.3)"/>
<ellipse cx="41.22" cy="19.47" rx="1.4" ry="1.8" transform="rotate(90 41.22 19.47)"/>
<ellipse cx="48.47" cy="21.44" rx="1.4" ry="1.8" transform="rotate(40 48.47 21.44)"/>
<ellipse cx="56.44" cy="21.44" rx="1.4" ry="1.8" transform="rotate(-40 56.44 21.44)"/>
<ellipse cx="62.97" cy="19.88" rx="1.4" ry="1.8" transform="rotate(-40 62.97 19.88)"/>
<ellipse cx="45.05" cy="27.24" rx="1.4" ry="1.8" transform="rotate(40 45.05 27.24)"/>
<ellipse cx="62.86" cy="29.21" rx="1.4" ry="1.8" transform="rotate(0 62.86 29.21)"/>
<ellipse cx="28.27" cy="32.11" rx="1.4" ry="1.8" transform="rotate(20 28.27 32.11)"/>
<ellipse cx="35.73" cy="30.86" rx="1.4" ry="1.8" transform="rotate(0 35.73 30.86)"/>
<ellipse cx="52.82" cy="35.73" rx="1.4" ry="1.8" transform="rotate(0 52.82 35.73)"/>
<ellipse cx="14.5" cy="38.32" rx="1.4" ry="1.8" transform="rotate(60 14.5 38.32)"/>
<ellipse cx="25.06" cy="39.67" rx="1.4" ry="1.8" transform="rotate(90 25.06 39.67)"/>
<ellipse cx="0.21" cy="39.15" rx="1.4" ry="1.8" transform="rotate(-20 0.21 39.15)"/>
<ellipse cx="61.1" cy="42.98" rx="1.4" ry="1.8" transform="rotate(20 61.1 42.98)"/>
<ellipse cx="50.95" cy="45.05" rx="1.4" ry="1.8" transform="rotate(40 50.95 45.05)"/>
<ellipse cx="5.39" cy="49.19" rx="1.4" ry="1.8" transform="rotate(-20 5.39 49.19)"/>
<ellipse cx="44.22" cy="51.78" rx="1.4" ry="1.8" transform="rotate(40 44.22 51.78)"/>
<ellipse cx="59.86" cy="50.23" rx="1.4" ry="1.8" transform="rotate(-20 59.86 50.23)"/>
<ellipse cx="55.72" cy="55.61" rx="1.4" ry="1.8" transform="rotate(-40 55.72 55.61)"/>
<ellipse cx="63.38" cy="57.27" rx="1.4" ry="1.8" transform="rotate(20 63.38 57.27)"/>
<ellipse cx="23.61" cy="57.69" rx="1.4" ry="1.8" transform="rotate(60 23.61 57.69)"/>
</g>
<rect x="52.6" y="63.5" width="12.3" height="1.6" fill="#cdcdd2"/>
</svg>
</svg>
</body></html>
